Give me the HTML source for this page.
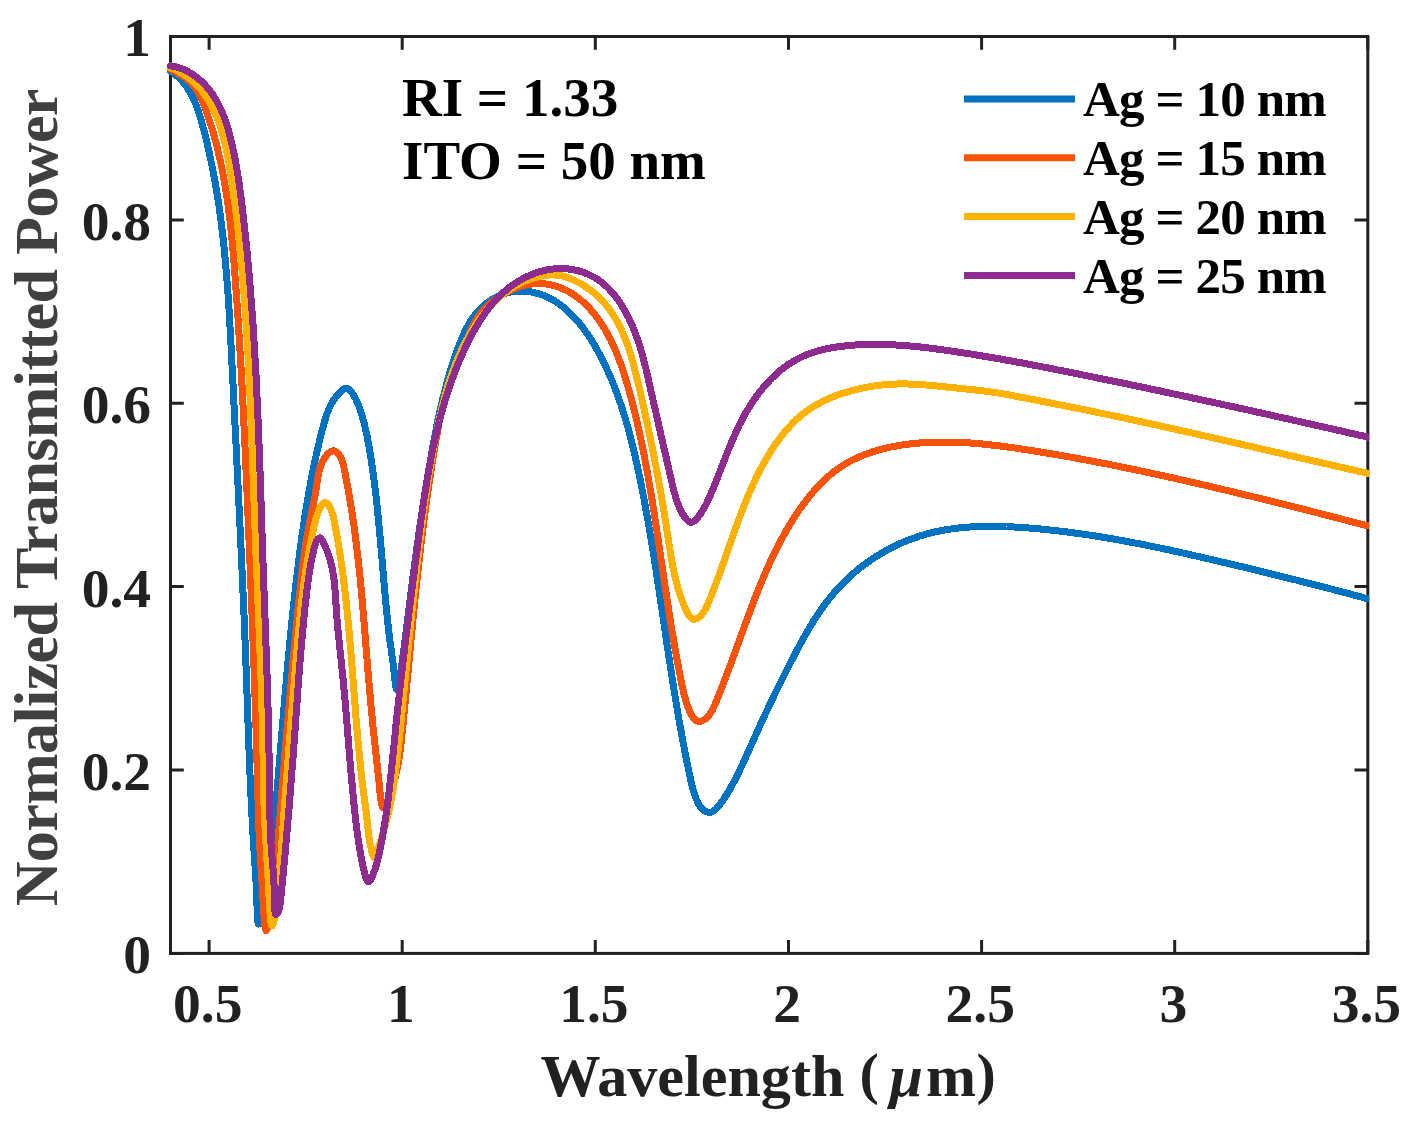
<!DOCTYPE html>
<html><head><meta charset="utf-8"><style>
html,body{margin:0;padding:0;background:#fff;width:1411px;height:1128px;overflow:hidden}
svg{display:block}
text{font-family:"Liberation Serif",serif}
</style></head><body>
<svg width="1411" height="1128" viewBox="0 0 1411 1128">
<defs><clipPath id="clip"><rect x="160.5" y="6.5" width="1208.8" height="976.9"/></clipPath></defs>
<rect x="170.5" y="36.5" width="1197.3" height="916.9" fill="none" stroke="#212121" stroke-width="3"/>
<path d="M209.1 953.4V940.1 M209.1 36.5V49.8 M402.2 953.4V940.1 M402.2 36.5V49.8 M595.3 953.4V940.1 M595.3 36.5V49.8 M788.5 953.4V940.1 M788.5 36.5V49.8 M981.6 953.4V940.1 M981.6 36.5V49.8 M1174.7 953.4V940.1 M1174.7 36.5V49.8 M1367.8 953.4V940.1 M1367.8 36.5V49.8 M170.5 953.4H183.8 M1367.8 953.4H1354.5 M170.5 770.0H183.8 M1367.8 770.0H1354.5 M170.5 586.6H183.8 M1367.8 586.6H1354.5 M170.5 403.3H183.8 M1367.8 403.3H1354.5 M170.5 219.9H183.8 M1367.8 219.9H1354.5 M170.5 36.5H183.8 M1367.8 36.5H1354.5" stroke="#212121" stroke-width="3" fill="none"/>
<g fill="none" stroke-width="7" stroke-linejoin="round" stroke-linecap="round" shape-rendering="crispEdges" clip-path="url(#clip)">
<path stroke="#0072C2" d="M170.2 71.0L171.6 71.9L172.9 72.9L174.2 73.8L175.4 74.8L176.6 75.8L177.8 76.8L178.9 77.9L180.0 78.9L181.0 80.0L182.1 81.1L183.1 82.2L184.0 83.4L184.9 84.6L185.8 85.7L186.7 86.9L187.5 88.2L188.3 89.4L189.1 90.6L189.9 91.9L190.6 93.2L191.3 94.5L192.0 95.8L192.7 97.1L193.3 98.4L193.9 99.8L194.5 101.2L195.1 102.5L195.7 103.9L196.2 105.3L196.8 106.7L197.3 108.1L197.8 109.5L198.3 110.9L198.7 112.3L199.2 113.8L199.6 115.2L200.1 116.6L200.5 118.1L200.9 119.5L201.3 121.0L201.8 122.4L202.2 123.9L202.6 125.4L202.9 126.8L203.3 128.3L203.7 129.7L204.1 131.2L204.5 132.6L204.8 134.1L205.2 135.6L205.6 137.0L205.9 138.5L206.3 140.0L206.7 141.4L207.0 142.9L207.4 144.3L207.7 145.8L208.0 147.3L208.4 148.7L208.7 150.2L209.0 151.7L209.4 153.1L209.7 154.6L210.0 156.1L210.3 157.5L210.6 159.0L210.9 160.5L211.2 162.0L211.5 163.4L211.8 164.9L212.1 166.4L212.4 167.8L212.7 169.3L213.0 170.8L213.3 172.3L213.6 173.7L213.8 175.2L214.1 176.7L214.4 178.1L214.7 179.6L214.9 181.1L215.2 182.6L215.4 184.0L215.7 185.5L215.9 187.0L216.2 188.5L216.4 190.0L216.7 191.4L216.9 192.9L217.2 194.4L217.4 195.9L217.6 197.3L217.9 198.8L218.1 200.3L218.3 201.8L218.5 203.3L218.8 204.8L219.0 206.2L219.2 207.7L219.4 209.2L219.6 210.7L219.8 212.2L220.0 213.6L220.2 215.1L220.4 216.6L220.6 218.1L220.8 219.6L221.0 221.1L221.2 222.5L221.4 224.0L221.6 225.5L221.7 227.0L221.9 228.5L222.1 230.0L222.3 231.5L222.4 232.9L222.6 234.4L222.8 235.9L223.0 237.4L223.1 238.9L223.3 240.4L223.4 241.9L223.6 243.4L223.8 244.9L223.9 246.3L224.1 247.8L224.2 249.3L224.4 250.8L224.5 252.3L224.7 253.8L224.8 255.3L224.9 256.8L225.1 258.3L225.2 259.8L225.4 261.3L225.5 262.7L225.6 264.2L225.8 265.7L225.9 267.2L226.0 268.7L226.1 270.2L226.3 271.7L226.4 273.2L226.5 274.7L226.6 276.2L226.8 277.7L226.9 279.2L227.0 280.7L227.1 282.2L227.2 283.7L227.3 285.1L227.4 286.6L227.6 288.1L227.7 289.6L227.8 291.1L227.9 292.6L228.0 294.1L228.1 295.6L228.2 297.1L228.3 298.6L228.4 300.1L228.5 301.6L228.6 303.1L228.7 304.6L228.8 306.1L228.9 307.6L229.0 309.1L229.1 310.6L229.2 312.1L229.2 313.6L229.3 315.1L229.4 316.6L229.5 318.1L229.6 319.6L229.7 321.1L229.8 322.6L229.9 324.1L229.9 325.6L230.0 327.1L230.1 328.6L230.2 330.1L230.3 331.6L230.4 333.1L230.4 334.6L230.5 336.1L230.6 337.6L230.7 339.1L230.8 340.6L230.8 342.1L230.9 343.6L231.0 345.1L231.1 346.6L231.1 348.1L231.2 349.6L231.3 351.1L231.4 352.6L231.5 354.1L231.5 355.6L231.6 357.1L231.7 358.6L231.8 360.1L231.8 361.6L231.9 363.1L232.0 364.6L232.1 366.1L232.1 367.6L232.2 369.1L232.3 370.6L232.4 372.1L232.4 373.6L232.5 375.1L232.6 376.6L232.7 378.1L232.7 379.6L232.8 381.1L232.9 382.6L233.0 384.1L233.0 385.6L233.1 387.1L233.2 388.6L233.3 390.1L233.3 391.6L233.4 393.1L233.5 394.6L233.6 396.1L233.6 397.6L233.7 399.1L233.8 400.6L233.9 402.1L233.9 403.6L234.0 405.1L234.1 406.6L234.2 408.1L234.2 409.6L234.3 411.1L234.4 412.6L234.5 414.1L234.5 415.6L234.6 417.1L234.7 418.6L234.8 420.1L234.8 421.6L234.9 423.1L235.0 424.6L235.1 426.1L235.1 427.6L235.2 429.1L235.3 430.6L235.4 432.1L235.4 433.6L235.5 435.1L235.6 436.6L235.7 438.1L235.7 439.6L235.8 441.1L235.9 442.6L236.0 444.1L236.0 445.6L236.1 447.1L236.2 448.6L236.3 450.1L236.3 451.6L236.4 453.1L236.5 454.6L236.6 456.1L236.6 457.6L236.7 459.1L236.8 460.6L236.9 462.1L236.9 463.6L237.0 465.1L237.1 466.6L237.2 468.1L237.2 469.6L237.3 471.1L237.4 472.6L237.5 474.1L237.5 475.6L237.6 477.1L237.7 478.6L237.8 480.1L237.8 481.6L237.9 483.1L238.0 484.6L238.0 486.1L238.1 487.6L238.2 489.1L238.3 490.6L238.3 492.1L238.4 493.6L238.5 495.1L238.6 496.6L238.6 498.1L238.7 499.6L238.8 501.1L238.8 502.6L238.9 504.1L239.0 505.6L239.1 507.1L239.1 508.6L239.2 510.1L239.3 511.5L239.4 513.0L239.4 514.5L239.5 516.0L239.6 517.5L239.6 519.0L239.7 520.5L239.8 522.0L239.9 523.5L239.9 525.0L240.0 526.5L240.1 528.0L240.1 529.5L240.2 531.0L240.3 532.5L240.4 534.0L240.4 535.5L240.5 537.0L240.6 538.5L240.6 540.0L240.7 541.5L240.8 543.0L240.8 544.5L240.9 546.0L241.0 547.5L241.1 549.0L241.1 550.5L241.2 552.0L241.3 553.5L241.3 555.0L241.4 556.5L241.5 558.0L241.5 559.5L241.6 561.0L241.7 562.5L241.7 564.0L241.8 565.5L241.9 567.0L241.9 568.5L242.0 570.0L242.1 571.5L242.1 572.9L242.2 574.4L242.3 575.9L242.3 577.4L242.4 578.9L242.5 580.4L242.5 581.9L242.6 583.4L242.7 584.9L242.7 586.4L242.8 587.9L242.9 589.4L242.9 590.9L243.0 592.4L243.1 593.9L243.1 595.4L243.2 596.9L243.3 598.4L243.3 599.9L243.4 601.4L243.5 602.9L243.5 604.4L243.6 605.9L243.6 607.3L243.7 608.8L243.8 610.3L243.8 611.8L243.9 613.3L244.0 614.8L244.0 616.3L244.1 617.8L244.1 619.3L244.2 620.8L244.3 622.3L244.3 623.8L244.4 625.3L244.5 626.8L244.5 628.3L244.6 629.8L244.6 631.3L244.7 632.8L244.8 634.2L244.8 635.7L244.9 637.2L244.9 638.7L245.0 640.2L245.1 641.7L245.1 643.2L245.2 644.7L245.2 646.2L245.3 647.7L245.3 649.2L245.4 650.7L245.5 652.2L245.5 653.7L245.6 655.1L245.6 656.6L245.7 658.1L245.7 659.6L245.8 661.1L245.9 662.6L245.9 664.1L246.0 665.6L246.0 667.1L246.1 668.6L246.1 670.1L246.2 671.6L246.2 673.0L246.3 674.5L246.4 676.0L246.4 677.5L246.5 679.0L246.5 680.5L246.6 682.0L246.6 683.5L246.7 685.0L246.7 686.5L246.8 688.0L246.8 689.4L246.9 690.9L246.9 692.4L247.0 693.9L247.0 695.4L247.1 696.9L247.1 698.4L247.2 699.9L247.3 701.4L247.3 702.9L247.4 704.4L247.4 705.9L247.5 707.4L247.5 708.9L247.6 710.3L247.6 711.8L247.7 713.3L247.7 714.8L247.8 716.3L247.8 717.8L247.9 719.3L247.9 720.8L248.0 722.3L248.0 723.8L248.1 725.3L248.1 726.8L248.2 728.3L248.3 729.8L248.3 731.3L248.4 732.8L248.4 734.3L248.5 735.8L248.5 737.3L248.6 738.8L248.6 740.3L248.7 741.8L248.8 743.3L248.8 744.8L248.9 746.3L248.9 747.9L249.0 749.4L249.0 750.9L249.1 752.4L249.2 753.9L249.2 755.4L249.3 756.9L249.3 758.4L249.4 759.9L249.4 761.4L249.5 763.0L249.6 764.5L249.6 766.0L249.7 767.5L249.8 769.0L249.8 770.5L249.9 772.1L249.9 773.6L250.0 775.1L250.1 776.6L250.1 778.2L250.2 779.7L250.3 781.2L250.3 782.7L250.4 784.3L250.5 785.8L250.5 787.3L250.6 788.9L250.7 790.4L250.7 791.9L250.8 793.5L250.9 795.0L251.0 796.5L251.0 798.1L251.1 799.6L251.2 801.2L251.3 802.7L251.3 804.2L251.4 805.8L251.5 807.3L251.6 808.9L251.6 810.4L251.7 811.9L251.8 813.5L251.9 815.0L252.0 816.5L252.0 818.1L252.1 819.6L252.2 821.1L252.3 822.6L252.4 824.1L252.4 825.6L252.5 827.1L252.6 828.6L252.7 830.1L252.8 831.6L252.9 833.0L253.0 834.5L253.0 835.9L253.1 837.4L253.2 838.8L253.3 840.2L253.4 841.6L253.5 843.0L253.6 844.4L253.7 845.8L253.8 847.1L253.8 848.5L253.9 849.8L254.0 851.1L254.1 852.4L254.2 853.7L254.3 855.0L254.4 856.3L254.5 857.6L254.6 858.9L254.7 860.2L254.8 861.5L254.8 862.8L254.9 864.1L255.0 865.4L255.1 866.7L255.2 868.1L255.3 869.4L255.4 870.8L255.5 872.2L255.6 873.7L255.7 875.1L255.7 876.6L255.8 878.1L255.9 879.7L256.0 881.3L256.1 882.9L256.2 884.5L256.2 886.3L256.3 888.0L256.4 889.8L256.5 891.7L256.6 893.6L256.6 895.5L256.7 897.5L256.8 899.6L256.9 901.7L256.9 903.9L257.0 906.0L257.1 908.2L257.1 910.3L257.2 912.4L257.3 914.3L257.4 916.2L257.5 917.9L257.6 919.4L257.7 920.8L257.9 922.0L258.0 922.9L258.2 923.6L258.4 924.0L258.5 924.0L258.7 923.8L259.0 923.2L259.2 922.4L259.4 921.3L259.7 919.9L260.0 918.4L260.2 916.8L260.5 915.0L260.8 913.1L261.1 911.2L261.4 909.2L261.7 907.3L262.0 905.4L262.3 903.5L262.6 901.8L262.9 900.0L263.2 898.4L263.4 896.7L263.7 895.1L264.0 893.6L264.3 892.0L264.6 890.6L264.8 889.1L265.1 887.7L265.4 886.2L265.6 884.8L265.9 883.4L266.2 882.0L266.4 880.7L266.7 879.3L266.9 877.9L267.1 876.5L267.4 875.1L267.6 873.7L267.9 872.3L268.1 870.9L268.3 869.5L268.5 868.1L268.7 866.6L269.0 865.2L269.2 863.8L269.4 862.4L269.6 860.9L269.8 859.5L270.0 858.1L270.2 856.6L270.4 855.2L270.6 853.7L270.8 852.3L271.0 850.8L271.1 849.4L271.3 847.9L271.5 846.4L271.7 845.0L271.9 843.5L272.0 842.0L272.2 840.6L272.4 839.1L272.5 837.6L272.7 836.1L272.9 834.7L273.0 833.2L273.2 831.7L273.4 830.2L273.5 828.7L273.7 827.2L273.8 825.8L274.0 824.3L274.1 822.8L274.3 821.3L274.4 819.8L274.6 818.3L274.7 816.8L274.8 815.3L275.0 813.8L275.1 812.3L275.3 810.8L275.4 809.3L275.5 807.8L275.7 806.3L275.8 804.8L275.9 803.3L276.1 801.7L276.2 800.2L276.3 798.7L276.5 797.2L276.6 795.7L276.7 794.2L276.9 792.7L277.0 791.2L277.1 789.7L277.2 788.2L277.4 786.7L277.5 785.2L277.6 783.7L277.8 782.2L277.9 780.6L278.0 779.1L278.1 777.6L278.3 776.1L278.4 774.6L278.5 773.1L278.6 771.6L278.8 770.1L278.9 768.6L279.0 767.1L279.1 765.6L279.3 764.1L279.4 762.6L279.5 761.1L279.7 759.6L279.8 758.1L279.9 756.6L280.0 755.1L280.1 753.6L280.3 752.1L280.4 750.6L280.5 749.1L280.6 747.6L280.8 746.1L280.9 744.6L281.0 743.1L281.1 741.6L281.3 740.1L281.4 738.5L281.5 737.0L281.6 735.5L281.8 734.0L281.9 732.5L282.0 731.0L282.1 729.5L282.3 728.0L282.4 726.5L282.5 725.0L282.6 723.5L282.8 722.0L282.9 720.5L283.0 719.0L283.1 717.5L283.3 716.1L283.4 714.6L283.5 713.1L283.6 711.6L283.8 710.1L283.9 708.6L284.0 707.1L284.2 705.6L284.3 704.1L284.4 702.6L284.5 701.1L284.7 699.6L284.8 698.1L284.9 696.6L285.0 695.1L285.2 693.6L285.3 692.1L285.4 690.6L285.6 689.1L285.7 687.6L285.8 686.1L286.0 684.6L286.1 683.1L286.2 681.6L286.3 680.1L286.5 678.6L286.6 677.1L286.7 675.6L286.9 674.2L287.0 672.7L287.1 671.2L287.3 669.7L287.4 668.2L287.5 666.7L287.7 665.2L287.8 663.7L287.9 662.2L288.1 660.7L288.2 659.2L288.4 657.7L288.5 656.2L288.6 654.7L288.8 653.2L288.9 651.8L289.1 650.3L289.2 648.8L289.3 647.3L289.5 645.8L289.6 644.3L289.8 642.8L289.9 641.3L290.0 639.8L290.2 638.3L290.3 636.8L290.5 635.4L290.6 633.9L290.8 632.4L290.9 630.9L291.1 629.4L291.2 627.9L291.4 626.4L291.5 624.9L291.7 623.4L291.8 621.9L292.0 620.5L292.1 619.0L292.3 617.5L292.4 616.0L292.6 614.5L292.7 613.0L292.9 611.5L293.1 610.0L293.2 608.6L293.4 607.1L293.5 605.6L293.7 604.1L293.9 602.6L294.0 601.1L294.2 599.6L294.3 598.1L294.5 596.7L294.7 595.2L294.8 593.7L295.0 592.2L295.2 590.7L295.3 589.2L295.5 587.7L295.7 586.3L295.8 584.8L296.0 583.3L296.2 581.8L296.4 580.3L296.5 578.8L296.7 577.3L296.9 575.9L297.1 574.4L297.2 572.9L297.4 571.4L297.6 569.9L297.8 568.4L298.0 567.0L298.1 565.5L298.3 564.0L298.5 562.5L298.7 561.0L298.9 559.5L299.1 558.1L299.3 556.6L299.5 555.1L299.6 553.6L299.8 552.1L300.0 550.6L300.2 549.2L300.4 547.7L300.6 546.2L300.8 544.7L301.0 543.2L301.2 541.8L301.4 540.3L301.6 538.8L301.8 537.3L302.0 535.8L302.2 534.4L302.4 532.9L302.7 531.4L302.9 529.9L303.1 528.4L303.3 526.9L303.5 525.5L303.7 524.0L304.0 522.5L304.2 521.0L304.4 519.5L304.6 518.1L304.8 516.6L305.1 515.1L305.3 513.6L305.5 512.2L305.8 510.7L306.0 509.2L306.2 507.7L306.5 506.2L306.7 504.8L307.0 503.3L307.2 501.8L307.5 500.3L307.7 498.8L308.0 497.4L308.2 495.9L308.5 494.4L308.7 492.9L309.0 491.4L309.3 490.0L309.5 488.5L309.8 487.0L310.1 485.5L310.3 484.1L310.6 482.6L310.9 481.1L311.2 479.6L311.4 478.1L311.7 476.7L312.0 475.2L312.3 473.7L312.6 472.2L312.9 470.8L313.2 469.3L313.5 467.8L313.8 466.3L314.1 464.8L314.4 463.4L314.7 461.9L315.0 460.4L315.4 458.9L315.7 457.5L316.0 456.0L316.3 454.5L316.7 453.0L317.0 451.6L317.3 450.1L317.7 448.6L318.0 447.1L318.4 445.6L318.7 444.2L319.1 442.7L319.4 441.2L319.8 439.7L320.1 438.3L320.5 436.8L320.9 435.3L321.2 433.8L321.6 432.4L322.0 430.9L322.4 429.4L322.8 427.9L323.2 426.4L323.6 425.0L324.0 423.5L324.4 422.0L324.8 420.6L325.3 419.1L325.7 417.7L326.2 416.2L326.7 414.8L327.2 413.4L327.7 412.0L328.3 410.6L328.8 409.2L329.4 407.9L330.1 406.5L330.7 405.2L331.4 403.9L332.1 402.6L332.9 401.3L333.6 400.1L334.4 398.9L335.3 397.7L336.2 396.5L337.1 395.4L338.1 394.2L339.1 393.2L340.2 392.1L341.3 391.1L342.4 390.1L343.6 389.2L344.9 388.7L346.2 388.5L347.5 388.8L348.8 389.4L350.0 390.4L351.1 391.6L352.1 392.9L353.1 394.3L353.9 395.7L354.7 397.1L355.5 398.5L356.2 399.9L356.8 401.3L357.5 402.6L358.0 404.0L358.6 405.3L359.1 406.7L359.6 408.1L360.0 409.4L360.5 410.8L360.9 412.2L361.4 413.6L361.8 415.0L362.2 416.4L362.6 417.8L363.0 419.2L363.4 420.7L363.8 422.1L364.2 423.5L364.5 425.0L364.9 426.4L365.2 427.9L365.6 429.3L365.9 430.8L366.2 432.3L366.6 433.7L366.9 435.2L367.2 436.7L367.5 438.2L367.8 439.7L368.0 441.2L368.3 442.7L368.6 444.1L368.9 445.6L369.1 447.1L369.4 448.6L369.6 450.1L369.9 451.6L370.1 453.1L370.4 454.6L370.6 456.1L370.8 457.6L371.1 459.1L371.3 460.6L371.5 462.1L371.7 463.6L372.0 465.1L372.2 466.6L372.4 468.1L372.6 469.6L372.8 471.1L373.0 472.5L373.2 474.0L373.4 475.5L373.6 477.0L373.8 478.5L374.0 480.0L374.2 481.4L374.4 482.9L374.6 484.4L374.7 485.9L374.9 487.4L375.1 488.8L375.3 490.3L375.5 491.8L375.6 493.3L375.8 494.8L376.0 496.2L376.1 497.7L376.3 499.2L376.5 500.7L376.6 502.1L376.8 503.6L377.0 505.1L377.1 506.6L377.3 508.1L377.4 509.5L377.6 511.0L377.7 512.5L377.9 514.0L378.0 515.5L378.2 516.9L378.3 518.4L378.5 519.9L378.6 521.4L378.8 522.9L378.9 524.4L379.0 525.8L379.2 527.3L379.3 528.8L379.5 530.3L379.6 531.8L379.7 533.3L379.9 534.8L380.0 536.3L380.1 537.8L380.3 539.3L380.4 540.8L380.5 542.3L380.7 543.8L380.8 545.3L380.9 546.8L381.1 548.3L381.2 549.8L381.3 551.3L381.4 552.8L381.6 554.3L381.7 555.8L381.8 557.4L382.0 558.9L382.1 560.4L382.2 561.9L382.3 563.4L382.5 565.0L382.6 566.5L382.7 568.0L382.9 569.5L383.0 571.0L383.1 572.6L383.2 574.1L383.4 575.6L383.5 577.1L383.6 578.7L383.8 580.2L383.9 581.7L384.0 583.2L384.2 584.7L384.3 586.3L384.4 587.8L384.6 589.3L384.7 590.8L384.8 592.3L385.0 593.8L385.1 595.3L385.2 596.8L385.4 598.3L385.5 599.8L385.7 601.3L385.8 602.8L385.9 604.3L386.1 605.8L386.2 607.3L386.4 608.8L386.5 610.3L386.7 611.8L386.8 613.2L387.0 614.7L387.1 616.2L387.3 617.6L387.4 619.1L387.6 620.6L387.7 622.0L387.9 623.5L388.1 624.9L388.2 626.3L388.4 627.8L388.5 629.2L388.7 630.6L388.9 632.1L389.0 633.5L389.2 634.9L389.4 636.3L389.6 637.7L389.8 639.1L389.9 640.5L390.1 641.9L390.3 643.2L390.5 644.6L390.7 646.0L390.9 647.3L391.1 648.7L391.3 650.1L391.4 651.5L391.6 652.9L391.8 654.3L392.0 655.8L392.2 657.3L392.5 658.8L392.7 660.4L392.9 662.1L393.1 663.8L393.3 665.5L393.5 667.3L393.7 669.2L393.9 671.1L394.1 673.1L394.3 675.2L394.6 677.2L394.8 679.2L395.0 681.1L395.2 682.9L395.5 684.6L395.7 686.1L396.0 687.4L396.2 688.5L396.5 689.3L396.7 689.8L397.0 690.0L397.3 689.8L397.6 689.3L397.9 688.5L398.2 687.5L398.5 686.2L398.8 684.7L399.1 683.0L399.4 681.2L399.7 679.3L400.0 677.3L400.3 675.3L400.6 673.2L400.8 671.2L401.1 669.3L401.4 667.4L401.6 665.6L401.9 663.8L402.1 662.1L402.3 660.5L402.5 658.9L402.7 657.3L403.0 655.8L403.2 654.4L403.3 652.9L403.5 651.5L403.7 650.2L403.9 648.8L404.1 647.4L404.3 646.1L404.5 644.8L404.6 643.5L404.8 642.1L405.0 640.8L405.2 639.4L405.3 638.1L405.5 636.7L405.7 635.3L405.9 633.9L406.0 632.5L406.2 631.0L406.4 629.6L406.6 628.1L406.8 626.7L406.9 625.2L407.1 623.7L407.3 622.2L407.5 620.8L407.7 619.3L407.8 617.8L408.0 616.3L408.2 614.8L408.4 613.3L408.6 611.8L408.8 610.2L408.9 608.7L409.1 607.2L409.3 605.7L409.5 604.2L409.7 602.7L409.9 601.2L410.1 599.7L410.3 598.2L410.4 596.7L410.6 595.2L410.8 593.7L411.0 592.2L411.2 590.7L411.4 589.2L411.6 587.7L411.8 586.2L412.0 584.7L412.2 583.2L412.3 581.7L412.5 580.2L412.7 578.7L412.9 577.2L413.1 575.7L413.3 574.2L413.5 572.7L413.7 571.2L413.9 569.7L414.1 568.2L414.3 566.7L414.5 565.3L414.7 563.8L414.9 562.3L415.1 560.8L415.3 559.3L415.5 557.8L415.7 556.3L415.9 554.8L416.1 553.3L416.3 551.8L416.5 550.3L416.7 548.9L416.9 547.4L417.2 545.9L417.4 544.4L417.6 542.9L417.8 541.4L418.0 539.9L418.2 538.4L418.4 536.9L418.6 535.5L418.8 534.0L419.0 532.5L419.3 531.0L419.5 529.5L419.7 528.0L419.9 526.5L420.1 525.1L420.3 523.6L420.6 522.1L420.8 520.6L421.0 519.1L421.2 517.6L421.4 516.2L421.7 514.7L421.9 513.2L422.1 511.7L422.3 510.2L422.6 508.8L422.8 507.3L423.0 505.8L423.2 504.3L423.5 502.8L423.7 501.4L423.9 499.9L424.2 498.4L424.4 496.9L424.6 495.4L424.8 494.0L425.1 492.5L425.3 491.0L425.6 489.5L425.8 488.0L426.0 486.6L426.3 485.1L426.5 483.6L426.7 482.1L427.0 480.7L427.2 479.2L427.5 477.7L427.7 476.2L428.0 474.8L428.2 473.3L428.5 471.8L428.7 470.3L429.0 468.9L429.2 467.4L429.5 465.9L429.7 464.4L430.0 463.0L430.2 461.5L430.5 460.0L430.7 458.5L431.0 457.1L431.2 455.6L431.5 454.1L431.8 452.6L432.0 451.2L432.3 449.7L432.5 448.2L432.8 446.7L433.1 445.3L433.4 443.8L433.6 442.3L433.9 440.9L434.2 439.4L434.4 437.9L434.7 436.5L435.0 435.0L435.3 433.5L435.6 432.0L435.9 430.6L436.2 429.1L436.4 427.6L436.7 426.2L437.0 424.7L437.3 423.2L437.6 421.8L437.9 420.3L438.2 418.8L438.6 417.4L438.9 415.9L439.2 414.4L439.5 413.0L439.8 411.5L440.2 410.1L440.5 408.6L440.8 407.1L441.1 405.7L441.5 404.2L441.8 402.8L442.2 401.3L442.5 399.8L442.9 398.4L443.2 396.9L443.6 395.5L444.0 394.0L444.3 392.6L444.7 391.1L445.1 389.7L445.5 388.2L445.8 386.8L446.2 385.3L446.6 383.9L447.0 382.4L447.4 381.0L447.8 379.5L448.2 378.1L448.7 376.6L449.1 375.2L449.5 373.7L449.9 372.3L450.4 370.9L450.8 369.4L451.3 368.0L451.7 366.5L452.2 365.1L452.6 363.7L453.1 362.2L453.6 360.8L454.0 359.4L454.5 357.9L455.0 356.5L455.5 355.1L456.0 353.6L456.5 352.2L457.0 350.8L457.5 349.3L458.1 347.9L458.6 346.5L459.1 345.1L459.7 343.7L460.2 342.2L460.8 340.8L461.4 339.4L462.0 338.0L462.5 336.6L463.2 335.3L463.8 333.9L464.4 332.5L465.1 331.2L465.7 329.8L466.4 328.5L467.1 327.2L467.8 325.8L468.5 324.5L469.3 323.3L470.1 322.0L470.8 320.7L471.6 319.5L472.5 318.3L473.3 317.0L474.2 315.9L475.1 314.7L476.0 313.5L476.9 312.4L477.9 311.3L478.9 310.2L479.9 309.1L481.0 308.1L482.0 307.0L483.1 306.0L484.3 305.1L485.4 304.1L486.6 303.2L487.8 302.3L489.1 301.4L490.3 300.6L491.6 299.8L492.9 299.0L494.2 298.2L495.6 297.5L496.9 296.8L498.3 296.2L499.7 295.6L501.1 295.0L502.5 294.4L503.9 293.9L505.4 293.5L506.8 293.0L508.3 292.6L509.7 292.3L511.2 292.0L512.7 291.7L514.2 291.5L515.6 291.3L517.1 291.2L518.6 291.1L520.1 291.1L521.6 291.0L523.0 291.1L524.5 291.1L526.0 291.3L527.5 291.4L529.0 291.6L530.4 291.8L531.9 292.1L533.4 292.4L534.8 292.7L536.3 293.1L537.7 293.5L539.1 293.9L540.6 294.4L542.0 294.9L543.4 295.4L544.8 296.0L546.2 296.6L547.5 297.2L548.9 297.9L550.3 298.6L551.6 299.3L552.9 300.0L554.2 300.8L555.5 301.6L556.8 302.4L558.1 303.3L559.3 304.2L560.6 305.1L561.8 306.0L563.0 306.9L564.2 307.9L565.3 308.9L566.5 309.9L567.6 310.9L568.7 311.9L569.8 313.0L570.9 314.0L572.0 315.1L573.0 316.1L574.1 317.2L575.1 318.3L576.1 319.5L577.1 320.6L578.1 321.7L579.0 322.9L580.0 324.0L580.9 325.2L581.9 326.4L582.8 327.6L583.7 328.7L584.6 330.0L585.4 331.2L586.3 332.4L587.2 333.6L588.0 334.9L588.8 336.1L589.6 337.4L590.5 338.6L591.3 339.9L592.0 341.2L592.8 342.4L593.6 343.7L594.4 345.0L595.1 346.3L595.9 347.6L596.6 348.9L597.3 350.2L598.0 351.5L598.8 352.8L599.5 354.1L600.2 355.5L600.9 356.8L601.5 358.1L602.2 359.4L602.9 360.8L603.6 362.1L604.2 363.4L604.9 364.8L605.5 366.1L606.1 367.5L606.8 368.8L607.4 370.2L608.0 371.5L608.6 372.9L609.2 374.3L609.8 375.6L610.4 377.0L611.0 378.4L611.6 379.7L612.1 381.1L612.7 382.5L613.3 383.9L613.8 385.3L614.4 386.7L614.9 388.1L615.4 389.4L616.0 390.8L616.5 392.2L617.0 393.6L617.5 395.0L618.0 396.4L618.5 397.9L619.0 399.3L619.5 400.7L620.0 402.1L620.5 403.5L621.0 404.9L621.5 406.3L621.9 407.8L622.4 409.2L622.8 410.6L623.3 412.0L623.7 413.5L624.2 414.9L624.6 416.3L625.1 417.8L625.5 419.2L625.9 420.6L626.3 422.1L626.7 423.5L627.2 425.0L627.6 426.4L628.0 427.9L628.4 429.3L628.8 430.8L629.2 432.2L629.6 433.7L629.9 435.1L630.3 436.6L630.7 438.0L631.1 439.5L631.4 440.9L631.8 442.4L632.2 443.9L632.5 445.3L632.9 446.8L633.2 448.2L633.6 449.7L633.9 451.2L634.3 452.6L634.6 454.1L635.0 455.6L635.3 457.0L635.6 458.5L636.0 460.0L636.3 461.4L636.6 462.9L637.0 464.4L637.3 465.9L637.6 467.3L637.9 468.8L638.2 470.3L638.5 471.8L638.8 473.2L639.2 474.7L639.5 476.2L639.8 477.7L640.1 479.1L640.4 480.6L640.7 482.1L641.0 483.6L641.3 485.0L641.6 486.5L641.8 488.0L642.1 489.5L642.4 490.9L642.7 492.4L643.0 493.9L643.3 495.4L643.6 496.9L643.9 498.3L644.1 499.8L644.4 501.3L644.7 502.8L645.0 504.2L645.2 505.7L645.5 507.2L645.8 508.7L646.0 510.2L646.3 511.6L646.6 513.1L646.8 514.6L647.1 516.1L647.4 517.6L647.6 519.0L647.9 520.5L648.2 522.0L648.4 523.5L648.7 525.0L648.9 526.4L649.2 527.9L649.4 529.4L649.7 530.9L649.9 532.4L650.2 533.8L650.4 535.3L650.7 536.8L650.9 538.3L651.2 539.8L651.4 541.2L651.7 542.7L651.9 544.2L652.1 545.7L652.4 547.2L652.6 548.6L652.9 550.1L653.1 551.6L653.3 553.1L653.6 554.6L653.8 556.1L654.1 557.5L654.3 559.0L654.5 560.5L654.8 562.0L655.0 563.5L655.2 564.9L655.4 566.4L655.7 567.9L655.9 569.4L656.1 570.9L656.4 572.4L656.6 573.8L656.8 575.3L657.0 576.8L657.3 578.3L657.5 579.8L657.7 581.2L657.9 582.7L658.2 584.2L658.4 585.7L658.6 587.2L658.8 588.7L659.1 590.1L659.3 591.6L659.5 593.1L659.7 594.6L659.9 596.1L660.2 597.6L660.4 599.0L660.6 600.5L660.8 602.0L661.0 603.5L661.3 605.0L661.5 606.5L661.7 607.9L661.9 609.4L662.1 610.9L662.3 612.4L662.6 613.9L662.8 615.3L663.0 616.8L663.2 618.3L663.4 619.8L663.6 621.3L663.9 622.8L664.1 624.2L664.3 625.7L664.5 627.2L664.7 628.7L665.0 630.2L665.2 631.7L665.4 633.1L665.6 634.6L665.8 636.1L666.0 637.6L666.3 639.1L666.5 640.5L666.7 642.0L666.9 643.5L667.1 645.0L667.4 646.5L667.6 648.0L667.8 649.4L668.0 650.9L668.2 652.4L668.5 653.9L668.7 655.4L668.9 656.8L669.1 658.3L669.4 659.8L669.6 661.3L669.8 662.8L670.0 664.2L670.3 665.7L670.5 667.2L670.7 668.7L670.9 670.2L671.2 671.6L671.4 673.1L671.6 674.6L671.8 676.1L672.1 677.6L672.3 679.0L672.5 680.5L672.8 682.0L673.0 683.5L673.2 685.0L673.5 686.4L673.7 687.9L673.9 689.4L674.2 690.9L674.4 692.4L674.7 693.8L674.9 695.3L675.1 696.8L675.4 698.3L675.6 699.7L675.9 701.2L676.1 702.7L676.4 704.2L676.6 705.7L676.8 707.1L677.1 708.6L677.3 710.1L677.6 711.6L677.8 713.0L678.1 714.5L678.4 716.0L678.6 717.5L678.9 718.9L679.1 720.4L679.4 721.9L679.6 723.4L679.9 724.8L680.2 726.3L680.4 727.8L680.7 729.3L681.0 730.7L681.2 732.2L681.5 733.7L681.8 735.2L682.0 736.6L682.3 738.1L682.6 739.6L682.9 741.1L683.1 742.5L683.4 744.0L683.7 745.5L684.0 747.0L684.3 748.4L684.5 749.9L684.8 751.4L685.1 752.8L685.4 754.3L685.7 755.8L686.0 757.3L686.3 758.7L686.6 760.2L686.9 761.7L687.2 763.1L687.5 764.6L687.8 766.1L688.1 767.5L688.4 769.0L688.7 770.5L689.0 772.0L689.3 773.4L689.7 774.9L690.0 776.4L690.3 777.8L690.6 779.3L690.9 780.8L691.3 782.2L691.6 783.7L691.9 785.2L692.3 786.6L692.7 788.1L693.0 789.5L693.4 791.0L693.9 792.4L694.3 793.9L694.8 795.3L695.3 796.7L695.9 798.1L696.5 799.5L697.1 800.9L697.8 802.3L698.5 803.7L699.3 805.0L700.1 806.3L701.1 807.5L702.1 808.7L703.2 809.7L704.5 810.7L705.8 811.4L707.2 812.0L708.5 812.3L709.9 812.3L711.3 812.1L712.6 811.5L713.8 810.8L715.1 809.8L716.3 808.7L717.4 807.5L718.5 806.2L719.6 804.9L720.6 803.5L721.6 802.1L722.5 800.8L723.4 799.5L724.2 798.3L725.0 797.1L725.7 796.0L726.4 794.9L727.1 793.7L727.8 792.6L728.5 791.4L729.3 790.2L730.0 789.0L730.7 787.7L731.4 786.4L732.2 785.0L732.9 783.7L733.6 782.3L734.4 781.0L735.1 779.6L735.8 778.2L736.5 776.8L737.2 775.5L737.9 774.1L738.6 772.7L739.2 771.3L739.9 770.0L740.5 768.6L741.2 767.2L741.8 765.9L742.5 764.5L743.1 763.1L743.7 761.8L744.4 760.4L745.0 759.0L745.6 757.7L746.2 756.3L746.8 755.0L747.4 753.6L748.0 752.2L748.6 750.9L749.2 749.5L749.8 748.2L750.4 746.8L751.1 745.4L751.7 744.1L752.3 742.7L752.9 741.4L753.5 740.0L754.1 738.6L754.7 737.3L755.3 735.9L755.9 734.6L756.5 733.2L757.1 731.8L757.7 730.5L758.3 729.1L759.0 727.8L759.6 726.4L760.2 725.1L760.8 723.7L761.4 722.3L762.1 721.0L762.7 719.6L763.3 718.3L764.0 716.9L764.6 715.6L765.2 714.2L765.8 712.9L766.5 711.5L767.1 710.1L767.8 708.8L768.4 707.4L769.0 706.1L769.7 704.7L770.3 703.4L771.0 702.0L771.6 700.7L772.3 699.3L772.9 698.0L773.6 696.6L774.2 695.3L774.9 693.9L775.5 692.6L776.2 691.2L776.9 689.9L777.5 688.5L778.2 687.2L778.8 685.8L779.5 684.5L780.2 683.1L780.8 681.8L781.5 680.4L782.2 679.1L782.8 677.8L783.5 676.4L784.2 675.1L784.9 673.7L785.5 672.4L786.2 671.0L786.9 669.7L787.6 668.4L788.3 667.0L789.0 665.7L789.6 664.3L790.3 663.0L791.0 661.6L791.7 660.3L792.4 659.0L793.1 657.6L793.8 656.3L794.5 655.0L795.2 653.6L795.9 652.3L796.6 651.0L797.3 649.6L798.0 648.3L798.7 647.0L799.4 645.6L800.1 644.3L800.8 643.0L801.5 641.7L802.3 640.4L803.0 639.0L803.7 637.7L804.5 636.4L805.2 635.1L805.9 633.8L806.7 632.5L807.4 631.2L808.2 629.9L809.0 628.6L809.7 627.3L810.5 626.1L811.3 624.8L812.1 623.5L812.8 622.2L813.6 621.0L814.4 619.7L815.2 618.4L816.0 617.2L816.9 615.9L817.7 614.7L818.5 613.4L819.4 612.2L820.2 611.0L821.0 609.7L821.9 608.5L822.8 607.3L823.6 606.1L824.5 604.9L825.4 603.7L826.3 602.5L827.2 601.3L828.1 600.1L829.0 599.0L830.0 597.8L830.9 596.6L831.9 595.5L832.8 594.3L833.8 593.2L834.7 592.1L835.7 590.9L836.7 589.8L837.7 588.7L838.7 587.6L839.8 586.5L840.8 585.4L841.8 584.4L842.9 583.3L843.9 582.2L845.0 581.2L846.1 580.1L847.2 579.1L848.3 578.0L849.4 577.0L850.5 576.0L851.6 575.0L852.7 574.0L853.9 573.0L855.0 572.0L856.2 571.1L857.4 570.1L858.5 569.2L859.7 568.2L860.9 567.3L862.1 566.4L863.3 565.4L864.5 564.5L865.7 563.6L866.9 562.7L868.2 561.9L869.4 561.0L870.7 560.1L871.9 559.3L873.2 558.4L874.4 557.6L875.7 556.8L877.0 556.0L878.3 555.2L879.6 554.4L880.9 553.6L882.2 552.8L883.5 552.1L884.8 551.3L886.1 550.6L887.4 549.9L888.8 549.2L890.1 548.5L891.5 547.8L892.8 547.1L894.2 546.4L895.5 545.7L896.9 545.1L898.2 544.4L899.6 543.8L901.0 543.2L902.4 542.6L903.7 542.0L905.1 541.4L906.5 540.8L907.9 540.3L909.3 539.7L910.7 539.2L912.1 538.7L913.5 538.2L915.0 537.7L916.4 537.2L917.8 536.7L919.2 536.2L920.6 535.8L922.1 535.4L923.5 534.9L924.9 534.5L926.4 534.1L927.8 533.7L929.2 533.3L930.7 533.0L932.1 532.6L933.6 532.3L935.0 531.9L936.5 531.6L937.9 531.3L939.4 531.0L940.9 530.7L942.3 530.4L943.8 530.2L945.2 529.9L946.7 529.7L948.2 529.4L949.7 529.2L951.1 529.0L952.6 528.8L954.1 528.6L955.6 528.4L957.0 528.2L958.5 528.0L960.0 527.9L961.5 527.7L963.0 527.6L964.5 527.4L966.0 527.3L967.5 527.2L968.9 527.1L970.4 527.0L971.9 526.9L973.4 526.8L974.9 526.7L976.4 526.7L977.9 526.6L979.4 526.5L980.9 526.5L982.4 526.4L983.9 526.4L985.4 526.4L986.9 526.4L988.4 526.3L989.9 526.3L991.4 526.3L993.0 526.3L994.5 526.4L996.0 526.4L997.5 526.4L999.0 526.4L1000.5 526.5L1002.0 526.5L1003.5 526.5L1005.0 526.6L1006.5 526.7L1008.0 526.7L1009.5 526.8L1011.0 526.8L1012.6 526.9L1014.1 527.0L1015.6 527.1L1017.1 527.2L1018.6 527.3L1020.1 527.4L1021.6 527.5L1023.1 527.6L1024.6 527.7L1026.1 527.8L1027.6 527.9L1029.1 528.0L1030.6 528.1L1032.1 528.3L1033.6 528.4L1035.1 528.5L1036.6 528.6L1038.1 528.8L1039.6 528.9L1041.1 529.1L1042.6 529.2L1044.1 529.4L1045.6 529.5L1047.1 529.7L1048.6 529.8L1050.1 530.0L1051.6 530.1L1053.1 530.3L1054.6 530.5L1056.1 530.6L1057.6 530.8L1059.1 531.0L1060.6 531.2L1062.1 531.3L1063.5 531.5L1065.0 531.7L1066.5 531.9L1068.0 532.1L1069.5 532.3L1071.0 532.5L1072.5 532.7L1074.0 532.9L1075.4 533.1L1076.9 533.3L1078.4 533.5L1079.9 533.7L1081.4 533.9L1082.9 534.1L1084.3 534.3L1085.8 534.5L1087.3 534.8L1088.8 535.0L1090.3 535.2L1091.7 535.4L1093.2 535.7L1094.7 535.9L1096.2 536.1L1097.7 536.4L1099.1 536.6L1100.6 536.8L1102.1 537.1L1103.6 537.3L1105.0 537.6L1106.5 537.8L1108.0 538.1L1109.5 538.3L1110.9 538.6L1112.4 538.8L1113.9 539.1L1115.4 539.4L1116.8 539.6L1118.3 539.9L1119.8 540.1L1121.2 540.4L1122.7 540.7L1124.2 541.0L1125.7 541.2L1127.1 541.5L1128.6 541.8L1130.1 542.1L1131.5 542.3L1133.0 542.6L1134.5 542.9L1135.9 543.2L1137.4 543.5L1138.9 543.8L1140.3 544.0L1141.8 544.3L1143.3 544.6L1144.7 544.9L1146.2 545.2L1147.7 545.5L1149.1 545.8L1150.6 546.1L1152.1 546.4L1153.5 546.7L1155.0 547.0L1156.5 547.3L1157.9 547.6L1159.4 547.9L1160.9 548.2L1162.3 548.6L1163.8 548.9L1165.3 549.2L1166.7 549.5L1168.2 549.8L1169.6 550.1L1171.1 550.4L1172.6 550.8L1174.0 551.1L1175.5 551.4L1177.0 551.7L1178.4 552.0L1179.9 552.4L1181.3 552.7L1182.8 553.0L1184.3 553.3L1185.7 553.7L1187.2 554.0L1188.6 554.3L1190.1 554.6L1191.6 555.0L1193.0 555.3L1194.5 555.6L1195.9 556.0L1197.4 556.3L1198.9 556.6L1200.3 557.0L1201.8 557.3L1203.3 557.6L1204.7 558.0L1206.2 558.3L1207.6 558.7L1209.1 559.0L1210.6 559.3L1212.0 559.7L1213.5 560.0L1214.9 560.4L1216.4 560.7L1217.9 561.0L1219.3 561.4L1220.8 561.7L1222.2 562.1L1223.7 562.4L1225.2 562.8L1226.6 563.1L1228.1 563.5L1229.5 563.8L1231.0 564.1L1232.5 564.5L1233.9 564.8L1235.4 565.2L1236.8 565.5L1238.3 565.9L1239.8 566.2L1241.2 566.6L1242.7 566.9L1244.1 567.3L1245.6 567.6L1247.1 568.0L1248.5 568.3L1250.0 568.7L1251.4 569.0L1252.9 569.4L1254.4 569.7L1255.8 570.1L1257.3 570.5L1258.7 570.8L1260.2 571.2L1261.7 571.5L1263.1 571.9L1264.6 572.2L1266.0 572.6L1267.5 573.0L1269.0 573.3L1270.4 573.7L1271.9 574.0L1273.3 574.4L1274.8 574.7L1276.2 575.1L1277.7 575.5L1279.2 575.8L1280.6 576.2L1282.1 576.6L1283.5 576.9L1285.0 577.3L1286.5 577.6L1287.9 578.0L1289.4 578.4L1290.8 578.7L1292.3 579.1L1293.7 579.5L1295.2 579.8L1296.7 580.2L1298.1 580.6L1299.6 580.9L1301.0 581.3L1302.5 581.7L1303.9 582.0L1305.4 582.4L1306.8 582.8L1308.3 583.2L1309.8 583.5L1311.2 583.9L1312.7 584.3L1314.1 584.6L1315.6 585.0L1317.0 585.4L1318.5 585.8L1319.9 586.1L1321.4 586.5L1322.8 586.9L1324.3 587.3L1325.7 587.6L1327.2 588.0L1328.6 588.4L1330.1 588.8L1331.5 589.1L1333.0 589.5L1334.4 589.9L1335.9 590.3L1337.3 590.7L1338.8 591.0L1340.2 591.4L1341.7 591.8L1343.1 592.2L1344.6 592.6L1346.0 593.0L1347.5 593.3L1348.9 593.7L1350.4 594.1L1351.8 594.5L1353.3 594.9L1354.7 595.3L1356.2 595.7L1357.6 596.0L1359.0 596.4L1360.5 596.8L1361.9 597.2L1363.4 597.6L1364.8 598.0L1366.3 598.4L1367.7 598.8"/>
<path stroke="#F9530B" d="M170.6 69.5L171.8 70.1L173.1 70.7L174.4 71.4L175.7 72.1L177.0 72.8L178.3 73.5L179.7 74.3L181.0 75.1L182.3 75.9L183.6 76.8L184.9 77.6L186.1 78.6L187.3 79.5L188.5 80.5L189.6 81.5L190.6 82.6L191.7 83.7L192.6 84.8L193.6 85.9L194.5 87.1L195.3 88.3L196.2 89.5L197.0 90.7L197.8 92.0L198.5 93.3L199.2 94.6L199.9 95.9L200.6 97.2L201.2 98.6L201.8 99.9L202.4 101.3L203.0 102.7L203.6 104.1L204.2 105.5L204.7 106.9L205.2 108.3L205.7 109.7L206.3 111.2L206.8 112.6L207.3 114.0L207.8 115.4L208.2 116.9L208.7 118.3L209.2 119.7L209.7 121.1L210.1 122.6L210.6 124.0L211.0 125.4L211.5 126.9L211.9 128.3L212.3 129.8L212.8 131.2L213.2 132.6L213.6 134.1L214.0 135.5L214.4 137.0L214.8 138.4L215.2 139.8L215.6 141.3L216.0 142.7L216.3 144.2L216.7 145.6L217.1 147.1L217.4 148.5L217.8 150.0L218.1 151.4L218.5 152.9L218.8 154.3L219.2 155.8L219.5 157.3L219.8 158.7L220.2 160.2L220.5 161.6L220.8 163.1L221.1 164.5L221.4 166.0L221.7 167.5L222.0 168.9L222.3 170.4L222.6 171.9L222.9 173.3L223.1 174.8L223.4 176.3L223.7 177.7L223.9 179.2L224.2 180.7L224.5 182.1L224.7 183.6L225.0 185.1L225.2 186.6L225.5 188.0L225.7 189.5L225.9 191.0L226.2 192.5L226.4 193.9L226.6 195.4L226.8 196.9L227.1 198.4L227.3 199.8L227.5 201.3L227.7 202.8L227.9 204.3L228.1 205.8L228.3 207.2L228.5 208.7L228.7 210.2L228.9 211.7L229.1 213.2L229.3 214.7L229.4 216.1L229.6 217.6L229.8 219.1L230.0 220.6L230.1 222.1L230.3 223.6L230.5 225.1L230.6 226.5L230.8 228.0L231.0 229.5L231.1 231.0L231.3 232.5L231.4 234.0L231.6 235.5L231.7 237.0L231.9 238.5L232.0 240.0L232.2 241.5L232.3 242.9L232.4 244.4L232.6 245.9L232.7 247.4L232.8 248.9L233.0 250.4L233.1 251.9L233.2 253.4L233.4 254.9L233.5 256.4L233.6 257.9L233.7 259.4L233.9 260.9L234.0 262.4L234.1 263.9L234.2 265.4L234.3 266.9L234.5 268.4L234.6 269.9L234.7 271.4L234.8 272.9L234.9 274.4L235.0 275.9L235.2 277.4L235.3 278.9L235.4 280.4L235.5 281.9L235.6 283.4L235.7 284.9L235.8 286.4L235.9 287.9L236.0 289.4L236.1 290.9L236.2 292.4L236.4 293.9L236.5 295.4L236.6 296.9L236.7 298.4L236.8 299.9L236.9 301.4L237.0 302.9L237.1 304.4L237.2 305.9L237.3 307.4L237.4 308.9L237.5 310.4L237.6 311.9L237.7 313.4L237.8 314.9L237.9 316.4L238.0 317.9L238.1 319.4L238.2 320.9L238.3 322.4L238.4 323.9L238.5 325.4L238.6 326.9L238.7 328.4L238.8 329.9L238.9 331.4L238.9 332.9L239.0 334.4L239.1 335.9L239.2 337.4L239.3 338.9L239.4 340.4L239.5 341.9L239.6 343.4L239.7 344.9L239.8 346.4L239.9 347.9L239.9 349.4L240.0 350.9L240.1 352.4L240.2 353.9L240.3 355.4L240.4 356.9L240.5 358.4L240.6 359.9L240.6 361.4L240.7 362.9L240.8 364.4L240.9 365.9L241.0 367.4L241.1 368.9L241.2 370.4L241.2 371.9L241.3 373.4L241.4 374.9L241.5 376.4L241.6 377.9L241.6 379.4L241.7 380.9L241.8 382.4L241.9 384.0L242.0 385.5L242.0 387.0L242.1 388.5L242.2 390.0L242.3 391.5L242.4 393.0L242.4 394.5L242.5 396.0L242.6 397.5L242.7 399.0L242.8 400.5L242.8 402.0L242.9 403.5L243.0 405.0L243.1 406.5L243.1 408.0L243.2 409.5L243.3 411.0L243.4 412.5L243.4 414.0L243.5 415.5L243.6 417.0L243.7 418.5L243.7 420.0L243.8 421.5L243.9 423.0L243.9 424.5L244.0 426.0L244.1 427.5L244.2 429.0L244.2 430.5L244.3 432.0L244.4 433.5L244.4 435.0L244.5 436.5L244.6 438.0L244.7 439.5L244.7 441.0L244.8 442.5L244.9 444.0L244.9 445.5L245.0 447.0L245.1 448.5L245.1 450.0L245.2 451.5L245.3 453.0L245.3 454.5L245.4 456.0L245.5 457.5L245.5 459.0L245.6 460.5L245.7 462.0L245.7 463.5L245.8 465.0L245.9 466.5L245.9 468.0L246.0 469.5L246.1 471.0L246.1 472.5L246.2 474.0L246.3 475.5L246.3 477.0L246.4 478.5L246.5 480.0L246.5 481.5L246.6 483.0L246.7 484.5L246.7 485.9L246.8 487.4L246.9 488.9L246.9 490.4L247.0 491.9L247.0 493.4L247.1 494.9L247.2 496.4L247.2 497.9L247.3 499.4L247.4 500.9L247.4 502.4L247.5 503.9L247.5 505.4L247.6 506.9L247.7 508.4L247.7 509.9L247.8 511.4L247.9 512.8L247.9 514.3L248.0 515.8L248.0 517.3L248.1 518.8L248.2 520.3L248.2 521.8L248.3 523.3L248.4 524.8L248.4 526.3L248.5 527.8L248.5 529.3L248.6 530.7L248.7 532.2L248.7 533.7L248.8 535.2L248.9 536.7L248.9 538.2L249.0 539.7L249.0 541.2L249.1 542.7L249.2 544.2L249.2 545.6L249.3 547.1L249.3 548.6L249.4 550.1L249.5 551.6L249.5 553.1L249.6 554.6L249.7 556.1L249.7 557.5L249.8 559.0L249.8 560.5L249.9 562.0L250.0 563.5L250.0 565.0L250.1 566.5L250.1 568.0L250.2 569.4L250.3 570.9L250.3 572.4L250.4 573.9L250.4 575.4L250.5 576.9L250.6 578.4L250.6 579.9L250.7 581.3L250.7 582.8L250.8 584.3L250.9 585.8L250.9 587.3L251.0 588.8L251.0 590.3L251.1 591.8L251.2 593.2L251.2 594.7L251.3 596.2L251.3 597.7L251.4 599.2L251.4 600.7L251.5 602.2L251.6 603.6L251.6 605.1L251.7 606.6L251.7 608.1L251.8 609.6L251.9 611.1L251.9 612.6L252.0 614.1L252.0 615.6L252.1 617.0L252.1 618.5L252.2 620.0L252.3 621.5L252.3 623.0L252.4 624.5L252.4 626.0L252.5 627.5L252.5 629.0L252.6 630.4L252.7 631.9L252.7 633.4L252.8 634.9L252.8 636.4L252.9 637.9L252.9 639.4L253.0 640.9L253.0 642.4L253.1 643.9L253.2 645.4L253.2 646.9L253.3 648.4L253.3 649.8L253.4 651.3L253.4 652.8L253.5 654.3L253.5 655.8L253.6 657.3L253.6 658.8L253.7 660.3L253.8 661.8L253.8 663.3L253.9 664.8L253.9 666.3L254.0 667.8L254.0 669.3L254.1 670.8L254.1 672.3L254.2 673.8L254.2 675.3L254.3 676.8L254.3 678.3L254.4 679.8L254.4 681.3L254.5 682.8L254.5 684.3L254.6 685.8L254.6 687.3L254.7 688.8L254.8 690.3L254.8 691.8L254.9 693.3L254.9 694.8L255.0 696.3L255.0 697.8L255.1 699.3L255.1 700.9L255.2 702.4L255.2 703.9L255.3 705.4L255.3 706.9L255.3 708.4L255.4 709.9L255.4 711.4L255.5 712.9L255.5 714.4L255.6 716.0L255.6 717.5L255.7 719.0L255.7 720.5L255.8 722.0L255.8 723.5L255.9 725.1L255.9 726.6L256.0 728.1L256.0 729.6L256.1 731.1L256.1 732.6L256.2 734.2L256.2 735.7L256.2 737.2L256.3 738.7L256.3 740.3L256.4 741.8L256.4 743.3L256.5 744.8L256.5 746.4L256.6 747.9L256.6 749.4L256.6 750.9L256.7 752.5L256.7 754.0L256.8 755.5L256.8 757.1L256.9 758.6L256.9 760.1L256.9 761.7L257.0 763.2L257.0 764.7L257.1 766.3L257.1 767.8L257.1 769.3L257.2 770.9L257.2 772.4L257.3 774.0L257.3 775.5L257.3 777.0L257.4 778.6L257.4 780.1L257.5 781.6L257.5 783.2L257.5 784.7L257.6 786.2L257.6 787.8L257.7 789.3L257.7 790.8L257.8 792.3L257.8 793.9L257.8 795.4L257.9 796.9L257.9 798.4L258.0 799.9L258.0 801.4L258.1 803.0L258.1 804.5L258.1 806.0L258.2 807.5L258.2 808.9L258.3 810.4L258.3 811.9L258.4 813.4L258.4 814.9L258.5 816.3L258.5 817.8L258.6 819.3L258.6 820.7L258.7 822.2L258.7 823.6L258.8 825.1L258.8 826.5L258.9 827.9L258.9 829.3L259.0 830.7L259.1 832.2L259.1 833.6L259.2 835.0L259.2 836.3L259.3 837.7L259.4 839.1L259.4 840.5L259.5 841.8L259.6 843.2L259.6 844.5L259.7 845.8L259.8 847.2L259.8 848.5L259.9 849.8L260.0 851.1L260.1 852.4L260.2 853.7L260.2 855.0L260.3 856.3L260.4 857.6L260.5 858.9L260.6 860.2L260.6 861.5L260.7 862.8L260.8 864.2L260.9 865.6L261.0 866.9L261.1 868.3L261.2 869.8L261.3 871.2L261.4 872.7L261.5 874.2L261.6 875.7L261.7 877.3L261.8 878.9L261.9 880.5L262.0 882.2L262.1 883.9L262.2 885.7L262.3 887.5L262.4 889.3L262.5 891.2L262.6 893.2L262.8 895.2L262.9 897.2L263.0 899.4L263.1 901.5L263.2 903.7L263.4 906.0L263.5 908.2L263.6 910.5L263.7 912.7L263.9 914.8L264.0 916.9L264.2 918.9L264.3 920.8L264.5 922.6L264.7 924.3L264.9 925.8L265.1 927.1L265.3 928.3L265.5 929.2L265.7 929.9L265.9 930.4L266.2 930.6L266.5 930.6L266.7 930.2L267.0 929.5L267.3 928.6L267.7 927.4L268.0 926.1L268.3 924.5L268.6 922.9L269.0 921.1L269.3 919.3L269.6 917.4L269.9 915.6L270.2 913.8L270.5 912.1L270.8 910.4L271.1 908.8L271.3 907.2L271.6 905.6L271.8 904.1L272.1 902.6L272.3 901.2L272.5 899.7L272.7 898.3L273.0 896.9L273.2 895.5L273.4 894.1L273.5 892.8L273.7 891.4L273.9 890.0L274.1 888.6L274.3 887.2L274.4 885.8L274.6 884.3L274.7 882.9L274.9 881.5L275.0 880.0L275.2 878.6L275.3 877.1L275.4 875.7L275.6 874.2L275.7 872.7L275.8 871.2L276.0 869.7L276.1 868.3L276.2 866.8L276.3 865.3L276.5 863.8L276.6 862.3L276.7 860.8L276.8 859.2L276.9 857.7L277.0 856.2L277.1 854.7L277.2 853.2L277.4 851.7L277.5 850.2L277.6 848.7L277.7 847.1L277.8 845.6L277.9 844.1L278.0 842.6L278.1 841.1L278.2 839.6L278.4 838.1L278.5 836.6L278.6 835.1L278.7 833.6L278.8 832.1L278.9 830.5L279.0 829.0L279.1 827.5L279.3 826.0L279.4 824.5L279.5 823.0L279.6 821.5L279.7 820.0L279.8 818.5L279.9 817.0L280.1 815.5L280.2 814.0L280.3 812.5L280.4 811.0L280.5 809.5L280.6 808.0L280.8 806.5L280.9 805.0L281.0 803.5L281.1 802.0L281.2 800.5L281.3 799.0L281.5 797.5L281.6 796.0L281.7 794.5L281.8 793.0L281.9 791.5L282.0 790.0L282.2 788.5L282.3 787.0L282.4 785.5L282.5 784.0L282.6 782.5L282.8 781.0L282.9 779.5L283.0 778.0L283.1 776.5L283.2 775.0L283.4 773.5L283.5 772.0L283.6 770.5L283.7 769.0L283.8 767.5L284.0 766.1L284.1 764.6L284.2 763.1L284.3 761.6L284.5 760.1L284.6 758.6L284.7 757.1L284.8 755.6L284.9 754.1L285.1 752.6L285.2 751.1L285.3 749.6L285.4 748.1L285.6 746.6L285.7 745.2L285.8 743.7L285.9 742.2L286.1 740.7L286.2 739.2L286.3 737.7L286.4 736.2L286.6 734.7L286.7 733.2L286.8 731.7L286.9 730.2L287.1 728.8L287.2 727.3L287.3 725.8L287.5 724.3L287.6 722.8L287.7 721.3L287.8 719.8L288.0 718.3L288.1 716.8L288.2 715.3L288.4 713.9L288.5 712.4L288.6 710.9L288.7 709.4L288.9 707.9L289.0 706.4L289.1 704.9L289.3 703.4L289.4 701.9L289.5 700.4L289.7 699.0L289.8 697.5L289.9 696.0L290.1 694.5L290.2 693.0L290.3 691.5L290.5 690.0L290.6 688.5L290.7 687.0L290.9 685.5L291.0 684.1L291.1 682.6L291.3 681.1L291.4 679.6L291.5 678.1L291.7 676.6L291.8 675.1L291.9 673.6L292.1 672.1L292.2 670.6L292.4 669.2L292.5 667.7L292.6 666.2L292.8 664.7L292.9 663.2L293.0 661.7L293.2 660.2L293.3 658.7L293.5 657.2L293.6 655.7L293.7 654.2L293.9 652.7L294.0 651.3L294.2 649.8L294.3 648.3L294.4 646.8L294.6 645.3L294.7 643.8L294.9 642.3L295.0 640.8L295.1 639.3L295.3 637.8L295.4 636.3L295.6 634.8L295.7 633.3L295.9 631.8L296.0 630.3L296.1 628.8L296.3 627.3L296.4 625.8L296.6 624.4L296.7 622.9L296.9 621.4L297.0 619.9L297.2 618.4L297.3 616.9L297.5 615.4L297.6 613.9L297.7 612.4L297.9 610.9L298.0 609.4L298.2 607.9L298.3 606.4L298.5 604.9L298.6 603.4L298.8 601.9L298.9 600.4L299.1 598.9L299.2 597.4L299.4 595.9L299.5 594.4L299.7 592.9L299.9 591.4L300.0 589.9L300.2 588.4L300.3 586.9L300.5 585.4L300.7 583.9L300.8 582.4L301.0 580.9L301.2 579.4L301.3 577.9L301.5 576.4L301.7 574.9L301.8 573.4L302.0 571.9L302.2 570.4L302.4 568.9L302.6 567.4L302.7 565.9L302.9 564.4L303.1 563.0L303.3 561.5L303.5 560.0L303.7 558.5L303.9 557.0L304.1 555.5L304.3 554.0L304.5 552.6L304.7 551.1L305.0 549.6L305.2 548.1L305.4 546.6L305.6 545.2L305.8 543.7L306.1 542.2L306.3 540.7L306.6 539.3L306.8 537.8L307.0 536.3L307.3 534.9L307.5 533.4L307.8 531.9L308.1 530.5L308.3 529.0L308.6 527.6L308.9 526.1L309.2 524.7L309.4 523.2L309.7 521.7L310.0 520.3L310.3 518.9L310.6 517.4L310.9 516.0L311.2 514.5L311.5 513.1L311.8 511.6L312.1 510.2L312.4 508.7L312.8 507.3L313.1 505.8L313.4 504.4L313.7 502.9L314.0 501.4L314.2 500.0L314.5 498.5L314.8 497.0L315.1 495.5L315.3 494.0L315.6 492.5L315.8 490.9L316.1 489.4L316.3 487.8L316.5 486.3L316.8 484.7L317.0 483.2L317.2 481.6L317.4 480.0L317.7 478.5L318.0 476.9L318.2 475.4L318.5 473.8L318.9 472.3L319.2 470.8L319.6 469.3L320.1 467.9L320.5 466.4L321.1 465.0L321.6 463.6L322.2 462.2L322.9 460.9L323.6 459.6L324.4 458.3L325.2 457.1L326.2 455.9L327.2 454.7L328.2 453.6L329.3 452.6L330.5 451.7L331.8 451.1L333.0 450.8L334.3 451.0L335.5 451.5L336.6 452.3L337.7 453.3L338.6 454.4L339.5 455.6L340.3 456.9L341.0 458.2L341.6 459.6L342.2 461.1L342.7 462.6L343.1 464.1L343.5 465.7L343.9 467.3L344.2 468.9L344.6 470.5L344.9 472.1L345.2 473.6L345.5 475.2L345.7 476.8L346.0 478.3L346.3 479.8L346.6 481.3L346.9 482.8L347.2 484.3L347.4 485.8L347.7 487.2L348.0 488.7L348.3 490.2L348.5 491.7L348.8 493.1L349.0 494.6L349.3 496.1L349.5 497.5L349.8 499.0L350.0 500.5L350.3 501.9L350.5 503.4L350.8 504.9L351.0 506.3L351.3 507.8L351.5 509.3L351.7 510.7L351.9 512.2L352.2 513.7L352.4 515.1L352.6 516.6L352.8 518.1L353.0 519.5L353.3 521.0L353.5 522.5L353.7 523.9L353.9 525.4L354.1 526.9L354.3 528.3L354.5 529.8L354.7 531.3L354.9 532.8L355.1 534.2L355.3 535.7L355.5 537.2L355.7 538.6L355.8 540.1L356.0 541.6L356.2 543.0L356.4 544.5L356.6 546.0L356.7 547.5L356.9 548.9L357.1 550.4L357.3 551.9L357.4 553.4L357.6 554.8L357.8 556.3L357.9 557.8L358.1 559.3L358.3 560.7L358.4 562.2L358.6 563.7L358.7 565.2L358.9 566.6L359.1 568.1L359.2 569.6L359.4 571.1L359.5 572.6L359.7 574.0L359.8 575.5L360.0 577.0L360.1 578.5L360.3 580.0L360.4 581.5L360.5 582.9L360.7 584.4L360.8 585.9L361.0 587.4L361.1 588.9L361.2 590.4L361.4 591.9L361.5 593.3L361.7 594.8L361.8 596.3L361.9 597.8L362.1 599.3L362.2 600.8L362.3 602.3L362.5 603.8L362.6 605.3L362.7 606.8L362.8 608.3L363.0 609.8L363.1 611.3L363.2 612.8L363.4 614.3L363.5 615.8L363.6 617.3L363.7 618.8L363.9 620.3L364.0 621.8L364.1 623.3L364.2 624.8L364.4 626.3L364.5 627.8L364.6 629.4L364.7 630.9L364.8 632.4L365.0 633.9L365.1 635.4L365.2 636.9L365.3 638.5L365.5 640.0L365.6 641.5L365.7 643.0L365.8 644.5L365.9 646.1L366.1 647.6L366.2 649.1L366.3 650.6L366.4 652.2L366.6 653.7L366.7 655.2L366.8 656.8L366.9 658.3L367.1 659.8L367.2 661.4L367.3 662.9L367.4 664.5L367.6 666.0L367.7 667.5L367.8 669.1L367.9 670.6L368.1 672.2L368.2 673.7L368.3 675.3L368.5 676.8L368.6 678.4L368.7 679.9L368.9 681.5L369.0 683.0L369.1 684.6L369.3 686.1L369.4 687.7L369.5 689.2L369.7 690.7L369.8 692.3L369.9 693.8L370.1 695.3L370.2 696.8L370.3 698.3L370.5 699.8L370.6 701.3L370.7 702.8L370.9 704.3L371.0 705.8L371.1 707.3L371.3 708.7L371.4 710.2L371.6 711.7L371.7 713.1L371.8 714.5L372.0 715.9L372.1 717.4L372.2 718.8L372.4 720.1L372.5 721.5L372.6 722.9L372.8 724.2L372.9 725.6L373.0 726.9L373.2 728.2L373.3 729.5L373.4 730.8L373.6 732.1L373.7 733.3L373.8 734.6L374.0 735.8L374.1 737.1L374.2 738.3L374.4 739.6L374.5 740.8L374.7 742.0L374.8 743.3L374.9 744.5L375.1 745.8L375.2 747.1L375.4 748.3L375.5 749.6L375.6 750.9L375.8 752.3L375.9 753.6L376.1 755.0L376.2 756.3L376.4 757.7L376.6 759.2L376.7 760.6L376.9 762.1L377.0 763.7L377.2 765.2L377.4 766.8L377.6 768.4L377.7 770.1L377.9 771.8L378.1 773.5L378.3 775.3L378.5 777.2L378.7 779.1L378.9 781.0L379.1 783.0L379.3 785.0L379.5 787.1L379.7 789.3L379.9 791.5L380.2 793.7L380.4 796.0L380.7 798.1L380.9 800.2L381.2 802.1L381.5 803.8L381.9 805.3L382.3 806.6L382.7 807.5L383.1 808.0L383.6 808.1L384.2 807.8L384.8 807.0L385.4 805.8L386.0 804.4L386.7 802.8L387.3 801.2L387.9 799.5L388.5 798.0L389.1 796.5L389.7 795.0L390.2 793.5L390.7 792.1L391.2 790.7L391.7 789.3L392.2 787.9L392.6 786.5L393.1 785.1L393.5 783.7L393.9 782.3L394.3 780.9L394.7 779.4L395.1 778.0L395.4 776.6L395.8 775.1L396.1 773.7L396.4 772.3L396.7 770.8L397.0 769.4L397.3 767.9L397.6 766.5L397.9 765.0L398.2 763.5L398.4 762.1L398.6 760.6L398.9 759.1L399.1 757.7L399.3 756.2L399.6 754.7L399.8 753.2L400.0 751.7L400.2 750.3L400.4 748.8L400.5 747.3L400.7 745.8L400.9 744.3L401.1 742.8L401.2 741.3L401.4 739.8L401.6 738.3L401.7 736.8L401.9 735.4L402.0 733.9L402.2 732.4L402.3 730.9L402.5 729.4L402.7 727.9L402.8 726.4L403.0 724.9L403.1 723.4L403.3 721.9L403.4 720.4L403.6 718.9L403.7 717.4L403.8 715.9L404.0 714.4L404.1 712.9L404.3 711.4L404.4 709.9L404.6 708.4L404.7 706.9L404.9 705.5L405.0 704.0L405.2 702.5L405.3 701.0L405.4 699.5L405.6 698.0L405.7 696.5L405.9 695.0L406.0 693.5L406.2 692.0L406.3 690.5L406.4 689.0L406.6 687.5L406.7 686.0L406.9 684.5L407.0 683.0L407.1 681.5L407.3 680.0L407.4 678.6L407.6 677.1L407.7 675.6L407.8 674.1L408.0 672.6L408.1 671.1L408.3 669.6L408.4 668.1L408.5 666.6L408.7 665.1L408.8 663.6L409.0 662.1L409.1 660.6L409.2 659.1L409.4 657.6L409.5 656.1L409.6 654.7L409.8 653.2L409.9 651.7L410.1 650.2L410.2 648.7L410.3 647.2L410.5 645.7L410.6 644.2L410.8 642.7L410.9 641.2L411.0 639.7L411.2 638.2L411.3 636.7L411.5 635.2L411.6 633.8L411.7 632.3L411.9 630.8L412.0 629.3L412.2 627.8L412.3 626.3L412.5 624.8L412.6 623.3L412.7 621.8L412.9 620.3L413.0 618.8L413.2 617.3L413.3 615.8L413.5 614.4L413.6 612.9L413.8 611.4L413.9 609.9L414.0 608.4L414.2 606.9L414.3 605.4L414.5 603.9L414.6 602.4L414.8 600.9L414.9 599.4L415.1 597.9L415.2 596.5L415.4 595.0L415.5 593.5L415.7 592.0L415.8 590.5L416.0 589.0L416.2 587.5L416.3 586.0L416.5 584.5L416.6 583.0L416.8 581.5L416.9 580.1L417.1 578.6L417.3 577.1L417.4 575.6L417.6 574.1L417.7 572.6L417.9 571.1L418.1 569.6L418.2 568.1L418.4 566.6L418.6 565.2L418.7 563.7L418.9 562.2L419.1 560.7L419.2 559.2L419.4 557.7L419.6 556.2L419.7 554.7L419.9 553.2L420.1 551.8L420.2 550.3L420.4 548.8L420.6 547.3L420.8 545.8L421.0 544.3L421.1 542.8L421.3 541.3L421.5 539.8L421.7 538.4L421.9 536.9L422.0 535.4L422.2 533.9L422.4 532.4L422.6 530.9L422.8 529.4L423.0 527.9L423.2 526.5L423.4 525.0L423.5 523.5L423.7 522.0L423.9 520.5L424.1 519.0L424.3 517.5L424.5 516.0L424.7 514.6L424.9 513.1L425.1 511.6L425.3 510.1L425.5 508.6L425.7 507.1L425.9 505.6L426.1 504.2L426.3 502.7L426.5 501.2L426.7 499.7L426.9 498.2L427.2 496.7L427.4 495.2L427.6 493.8L427.8 492.3L428.0 490.8L428.2 489.3L428.4 487.8L428.7 486.3L428.9 484.8L429.1 483.4L429.3 481.9L429.5 480.4L429.8 478.9L430.0 477.4L430.2 475.9L430.4 474.5L430.7 473.0L430.9 471.5L431.1 470.0L431.3 468.5L431.6 467.0L431.8 465.6L432.0 464.1L432.3 462.6L432.5 461.1L432.8 459.6L433.0 458.2L433.2 456.7L433.5 455.2L433.7 453.7L434.0 452.2L434.2 450.7L434.4 449.3L434.7 447.8L434.9 446.3L435.2 444.8L435.4 443.3L435.7 441.9L435.9 440.4L436.2 438.9L436.4 437.4L436.7 435.9L437.0 434.5L437.2 433.0L437.5 431.5L437.7 430.0L438.0 428.6L438.3 427.1L438.5 425.6L438.8 424.1L439.1 422.6L439.3 421.2L439.6 419.7L439.9 418.2L440.2 416.7L440.5 415.3L440.8 413.8L441.1 412.3L441.4 410.9L441.7 409.4L442.0 407.9L442.3 406.5L442.6 405.0L443.0 403.6L443.3 402.1L443.7 400.7L444.0 399.2L444.4 397.8L444.8 396.3L445.2 394.9L445.6 393.4L446.0 392.0L446.4 390.6L446.8 389.1L447.3 387.7L447.7 386.3L448.2 384.9L448.7 383.5L449.1 382.0L449.6 380.6L450.2 379.2L450.7 377.8L451.2 376.4L451.8 375.1L452.4 373.7L453.0 372.3L453.5 370.9L454.2 369.5L454.8 368.2L455.4 366.8L456.0 365.4L456.7 364.0L457.3 362.7L457.9 361.3L458.6 359.9L459.2 358.6L459.8 357.2L460.5 355.8L461.1 354.4L461.7 353.1L462.3 351.7L462.9 350.3L463.5 348.9L464.1 347.5L464.6 346.1L465.2 344.6L465.7 343.2L466.3 341.8L466.8 340.4L467.4 339.0L467.9 337.6L468.5 336.2L469.0 334.8L469.6 333.4L470.2 332.0L470.8 330.6L471.4 329.3L472.0 327.9L472.6 326.6L473.3 325.2L473.9 323.9L474.6 322.6L475.4 321.3L476.1 320.0L476.9 318.8L477.7 317.5L478.5 316.3L479.4 315.1L480.3 313.9L481.2 312.7L482.1 311.6L483.1 310.5L484.1 309.4L485.1 308.3L486.1 307.2L487.2 306.1L488.3 305.1L489.4 304.1L490.5 303.1L491.6 302.1L492.8 301.2L494.0 300.3L495.2 299.3L496.4 298.5L497.6 297.6L498.9 296.7L500.2 295.9L501.5 295.1L502.8 294.3L504.1 293.6L505.4 292.8L506.7 292.1L508.1 291.4L509.5 290.7L510.9 290.1L512.2 289.5L513.6 288.9L515.1 288.3L516.5 287.8L517.9 287.3L519.3 286.8L520.8 286.3L522.2 285.9L523.7 285.5L525.2 285.2L526.6 284.8L528.1 284.5L529.6 284.3L531.1 284.1L532.6 283.9L534.0 283.7L535.5 283.6L537.0 283.6L538.5 283.5L540.0 283.6L541.5 283.6L543.0 283.7L544.4 283.9L545.9 284.0L547.4 284.2L548.9 284.5L550.3 284.8L551.8 285.1L553.3 285.5L554.7 285.9L556.1 286.3L557.6 286.8L559.0 287.3L560.4 287.8L561.8 288.4L563.2 289.0L564.6 289.6L565.9 290.2L567.3 290.9L568.6 291.6L569.9 292.4L571.2 293.1L572.5 293.9L573.7 294.8L575.0 295.6L576.2 296.5L577.4 297.4L578.6 298.3L579.8 299.2L580.9 300.1L582.1 301.1L583.2 302.1L584.3 303.1L585.4 304.2L586.5 305.2L587.5 306.3L588.6 307.4L589.6 308.5L590.6 309.6L591.6 310.7L592.6 311.9L593.5 313.0L594.5 314.2L595.4 315.4L596.3 316.6L597.2 317.8L598.1 319.0L599.0 320.2L599.8 321.4L600.7 322.7L601.5 323.9L602.3 325.2L603.1 326.4L603.9 327.7L604.7 329.0L605.4 330.3L606.2 331.5L606.9 332.8L607.6 334.1L608.3 335.5L609.0 336.8L609.7 338.1L610.4 339.4L611.1 340.8L611.7 342.1L612.3 343.5L613.0 344.8L613.6 346.2L614.2 347.5L614.8 348.9L615.4 350.3L616.0 351.7L616.6 353.1L617.1 354.5L617.7 355.8L618.2 357.2L618.8 358.6L619.3 360.1L619.8 361.5L620.3 362.9L620.8 364.3L621.3 365.7L621.8 367.1L622.3 368.6L622.8 370.0L623.2 371.4L623.7 372.9L624.2 374.3L624.6 375.7L625.1 377.2L625.5 378.6L626.0 380.1L626.4 381.5L626.8 383.0L627.2 384.4L627.7 385.9L628.1 387.3L628.5 388.8L628.9 390.2L629.3 391.7L629.7 393.1L630.1 394.6L630.5 396.0L630.9 397.5L631.3 398.9L631.7 400.4L632.0 401.8L632.4 403.3L632.8 404.7L633.2 406.2L633.5 407.7L633.9 409.1L634.3 410.6L634.6 412.0L635.0 413.5L635.3 414.9L635.7 416.4L636.0 417.9L636.4 419.3L636.7 420.8L637.1 422.2L637.4 423.7L637.8 425.2L638.1 426.6L638.4 428.1L638.7 429.6L639.1 431.0L639.4 432.5L639.7 433.9L640.0 435.4L640.3 436.9L640.7 438.3L641.0 439.8L641.3 441.3L641.6 442.7L641.9 444.2L642.2 445.7L642.5 447.1L642.8 448.6L643.1 450.1L643.4 451.5L643.7 453.0L644.0 454.5L644.2 455.9L644.5 457.4L644.8 458.9L645.1 460.4L645.4 461.8L645.7 463.3L645.9 464.8L646.2 466.2L646.5 467.7L646.7 469.2L647.0 470.7L647.3 472.1L647.5 473.6L647.8 475.1L648.1 476.6L648.3 478.0L648.6 479.5L648.8 481.0L649.1 482.5L649.4 483.9L649.6 485.4L649.9 486.9L650.1 488.4L650.4 489.8L650.6 491.3L650.9 492.8L651.1 494.3L651.3 495.7L651.6 497.2L651.8 498.7L652.1 500.2L652.3 501.7L652.5 503.1L652.8 504.6L653.0 506.1L653.3 507.6L653.5 509.0L653.7 510.5L654.0 512.0L654.2 513.5L654.4 515.0L654.6 516.5L654.9 517.9L655.1 519.4L655.3 520.9L655.6 522.4L655.8 523.9L656.0 525.3L656.2 526.8L656.5 528.3L656.7 529.8L656.9 531.3L657.1 532.8L657.3 534.2L657.6 535.7L657.8 537.2L658.0 538.7L658.2 540.2L658.5 541.7L658.7 543.1L658.9 544.6L659.1 546.1L659.3 547.6L659.6 549.1L659.8 550.6L660.0 552.1L660.2 553.5L660.4 555.0L660.7 556.5L660.9 558.0L661.1 559.5L661.3 561.0L661.5 562.5L661.7 563.9L662.0 565.4L662.2 566.9L662.4 568.4L662.6 569.9L662.8 571.4L663.1 572.9L663.3 574.4L663.5 575.8L663.7 577.3L663.9 578.8L664.2 580.3L664.4 581.8L664.6 583.3L664.8 584.8L665.0 586.2L665.3 587.7L665.5 589.2L665.7 590.7L665.9 592.2L666.2 593.7L666.4 595.2L666.6 596.6L666.8 598.1L667.1 599.6L667.3 601.1L667.5 602.6L667.7 604.1L668.0 605.5L668.2 607.0L668.4 608.5L668.7 610.0L668.9 611.5L669.1 613.0L669.4 614.4L669.6 615.9L669.8 617.4L670.1 618.9L670.3 620.4L670.5 621.9L670.8 623.3L671.0 624.8L671.3 626.3L671.5 627.8L671.8 629.3L672.0 630.7L672.2 632.2L672.5 633.7L672.7 635.2L673.0 636.6L673.2 638.1L673.5 639.6L673.7 641.1L674.0 642.6L674.2 644.0L674.5 645.5L674.8 647.0L675.0 648.5L675.3 649.9L675.5 651.4L675.8 652.9L676.1 654.3L676.3 655.8L676.6 657.3L676.9 658.8L677.1 660.2L677.4 661.7L677.7 663.2L678.0 664.6L678.2 666.1L678.5 667.6L678.8 669.0L679.1 670.5L679.4 672.0L679.7 673.4L680.0 674.9L680.2 676.4L680.5 677.8L680.8 679.3L681.1 680.8L681.4 682.2L681.7 683.7L682.0 685.1L682.3 686.6L682.6 688.1L682.9 689.5L683.3 691.0L683.6 692.4L683.9 693.9L684.3 695.3L684.7 696.8L685.1 698.2L685.5 699.7L685.9 701.1L686.4 702.6L686.9 704.0L687.4 705.4L687.9 706.9L688.5 708.3L689.1 709.7L689.7 711.2L690.4 712.6L691.1 714.0L691.8 715.4L692.7 716.8L693.5 718.1L694.5 719.2L695.6 720.2L696.9 720.8L698.2 721.2L699.6 721.3L701.0 721.1L702.4 720.6L703.7 719.9L705.0 719.1L706.1 718.2L707.2 717.2L708.2 716.2L709.1 715.1L710.0 713.9L710.8 712.7L711.6 711.4L712.3 710.1L713.0 708.7L713.6 707.3L714.3 705.9L714.9 704.5L715.5 703.1L716.1 701.7L716.6 700.3L717.2 698.8L717.8 697.4L718.4 696.0L718.9 694.6L719.5 693.2L720.1 691.7L720.6 690.3L721.2 688.9L721.8 687.5L722.3 686.1L722.9 684.7L723.4 683.2L724.0 681.8L724.5 680.4L725.0 679.0L725.6 677.6L726.1 676.2L726.7 674.8L727.2 673.3L727.7 671.9L728.3 670.5L728.8 669.1L729.3 667.7L729.8 666.3L730.4 664.9L730.9 663.5L731.4 662.1L731.9 660.6L732.4 659.2L733.0 657.8L733.5 656.4L734.0 655.0L734.5 653.6L735.0 652.2L735.5 650.8L736.1 649.4L736.6 648.0L737.1 646.6L737.6 645.2L738.1 643.8L738.6 642.4L739.1 641.0L739.6 639.5L740.1 638.1L740.6 636.7L741.2 635.3L741.7 633.9L742.2 632.5L742.7 631.1L743.2 629.7L743.7 628.3L744.2 626.9L744.7 625.5L745.2 624.1L745.8 622.7L746.3 621.3L746.8 619.9L747.3 618.5L747.8 617.1L748.3 615.7L748.9 614.3L749.4 612.9L749.9 611.5L750.4 610.1L750.9 608.8L751.5 607.4L752.0 606.0L752.5 604.6L753.1 603.2L753.6 601.8L754.1 600.4L754.7 599.0L755.2 597.6L755.7 596.2L756.3 594.8L756.8 593.4L757.4 592.1L757.9 590.7L758.5 589.3L759.1 587.9L759.6 586.5L760.2 585.1L760.7 583.8L761.3 582.4L761.9 581.0L762.5 579.6L763.0 578.2L763.6 576.9L764.2 575.5L764.8 574.1L765.4 572.8L766.0 571.4L766.6 570.0L767.2 568.7L767.8 567.3L768.4 565.9L769.0 564.6L769.6 563.2L770.3 561.8L770.9 560.5L771.5 559.1L772.2 557.8L772.8 556.4L773.5 555.1L774.1 553.7L774.8 552.4L775.4 551.0L776.1 549.7L776.8 548.4L777.5 547.0L778.1 545.7L778.8 544.4L779.5 543.0L780.2 541.7L780.9 540.4L781.6 539.0L782.4 537.7L783.1 536.4L783.8 535.1L784.5 533.8L785.3 532.5L786.0 531.1L786.8 529.8L787.5 528.5L788.3 527.2L789.1 525.9L789.9 524.6L790.6 523.3L791.4 522.0L792.2 520.7L793.0 519.5L793.8 518.2L794.7 516.9L795.5 515.6L796.3 514.3L797.2 513.1L798.0 511.8L798.9 510.5L799.7 509.3L800.6 508.0L801.5 506.8L802.4 505.5L803.3 504.3L804.2 503.1L805.1 501.9L806.0 500.7L806.9 499.4L807.9 498.2L808.8 497.1L809.8 495.9L810.7 494.7L811.7 493.5L812.7 492.4L813.7 491.2L814.7 490.1L815.7 489.0L816.7 487.9L817.7 486.7L818.7 485.6L819.8 484.6L820.8 483.5L821.9 482.4L822.9 481.4L824.0 480.3L825.1 479.3L826.2 478.3L827.3 477.3L828.4 476.3L829.6 475.4L830.7 474.4L831.8 473.5L833.0 472.5L834.2 471.6L835.3 470.7L836.5 469.9L837.7 469.0L838.9 468.1L840.1 467.3L841.4 466.5L842.6 465.7L843.8 464.9L845.1 464.2L846.4 463.4L847.7 462.7L848.9 462.0L850.2 461.2L851.5 460.6L852.9 459.9L854.2 459.2L855.5 458.6L856.8 458.0L858.2 457.4L859.5 456.8L860.9 456.2L862.3 455.6L863.6 455.1L865.0 454.5L866.4 454.0L867.8 453.5L869.2 453.0L870.6 452.5L872.0 452.0L873.5 451.6L874.9 451.1L876.3 450.7L877.8 450.3L879.2 449.9L880.7 449.5L882.1 449.1L883.6 448.7L885.0 448.4L886.5 448.0L888.0 447.7L889.4 447.3L890.9 447.0L892.4 446.7L893.9 446.4L895.4 446.2L896.8 445.9L898.3 445.6L899.8 445.4L901.3 445.1L902.8 444.9L904.3 444.7L905.8 444.5L907.3 444.3L908.8 444.1L910.3 443.9L911.8 443.8L913.3 443.6L914.8 443.4L916.4 443.3L917.9 443.2L919.4 443.0L920.9 442.9L922.4 442.8L923.9 442.7L925.4 442.6L926.9 442.5L928.4 442.4L929.9 442.4L931.4 442.3L932.9 442.3L934.4 442.2L935.9 442.2L937.4 442.1L938.9 442.1L940.4 442.1L941.9 442.1L943.4 442.1L944.9 442.1L946.4 442.1L947.9 442.1L949.4 442.1L950.9 442.1L952.4 442.2L953.9 442.2L955.4 442.3L956.9 442.3L958.4 442.4L959.9 442.4L961.4 442.5L962.9 442.6L964.4 442.7L965.9 442.8L967.4 442.8L968.9 442.9L970.3 443.0L971.8 443.2L973.3 443.3L974.8 443.4L976.3 443.5L977.8 443.6L979.3 443.8L980.8 443.9L982.3 444.0L983.8 444.2L985.3 444.3L986.8 444.5L988.2 444.6L989.7 444.8L991.2 445.0L992.7 445.1L994.2 445.3L995.7 445.5L997.2 445.7L998.7 445.8L1000.2 446.0L1001.6 446.2L1003.1 446.4L1004.6 446.6L1006.1 446.8L1007.6 447.0L1009.1 447.2L1010.6 447.4L1012.0 447.6L1013.5 447.8L1015.0 448.0L1016.5 448.3L1018.0 448.5L1019.5 448.7L1020.9 448.9L1022.4 449.1L1023.9 449.4L1025.4 449.6L1026.9 449.8L1028.4 450.1L1029.8 450.3L1031.3 450.5L1032.8 450.8L1034.3 451.0L1035.8 451.2L1037.3 451.5L1038.7 451.7L1040.2 451.9L1041.7 452.2L1043.2 452.4L1044.7 452.7L1046.1 452.9L1047.6 453.2L1049.1 453.4L1050.6 453.7L1052.1 453.9L1053.5 454.2L1055.0 454.4L1056.5 454.7L1058.0 454.9L1059.4 455.2L1060.9 455.4L1062.4 455.7L1063.9 456.0L1065.4 456.2L1066.8 456.5L1068.3 456.7L1069.8 457.0L1071.3 457.3L1072.7 457.5L1074.2 457.8L1075.7 458.1L1077.2 458.3L1078.6 458.6L1080.1 458.9L1081.6 459.2L1083.1 459.4L1084.5 459.7L1086.0 460.0L1087.5 460.3L1089.0 460.5L1090.4 460.8L1091.9 461.1L1093.4 461.4L1094.9 461.7L1096.3 461.9L1097.8 462.2L1099.3 462.5L1100.7 462.8L1102.2 463.1L1103.7 463.4L1105.2 463.7L1106.6 463.9L1108.1 464.2L1109.6 464.5L1111.0 464.8L1112.5 465.1L1114.0 465.4L1115.5 465.7L1116.9 466.0L1118.4 466.3L1119.9 466.6L1121.3 466.9L1122.8 467.2L1124.3 467.5L1125.7 467.8L1127.2 468.1L1128.7 468.4L1130.2 468.7L1131.6 469.0L1133.1 469.3L1134.6 469.6L1136.0 469.9L1137.5 470.2L1139.0 470.6L1140.4 470.9L1141.9 471.2L1143.4 471.5L1144.8 471.8L1146.3 472.1L1147.8 472.4L1149.2 472.7L1150.7 473.1L1152.2 473.4L1153.6 473.7L1155.1 474.0L1156.6 474.3L1158.0 474.7L1159.5 475.0L1161.0 475.3L1162.4 475.6L1163.9 475.9L1165.3 476.3L1166.8 476.6L1168.3 476.9L1169.7 477.2L1171.2 477.6L1172.7 477.9L1174.1 478.2L1175.6 478.5L1177.1 478.9L1178.5 479.2L1180.0 479.5L1181.4 479.9L1182.9 480.2L1184.4 480.5L1185.8 480.9L1187.3 481.2L1188.8 481.5L1190.2 481.9L1191.7 482.2L1193.1 482.5L1194.6 482.9L1196.1 483.2L1197.5 483.5L1199.0 483.9L1200.4 484.2L1201.9 484.6L1203.4 484.9L1204.8 485.2L1206.3 485.6L1207.8 485.9L1209.2 486.3L1210.7 486.6L1212.1 487.0L1213.6 487.3L1215.0 487.6L1216.5 488.0L1218.0 488.3L1219.4 488.7L1220.9 489.0L1222.3 489.4L1223.8 489.7L1225.3 490.1L1226.7 490.4L1228.2 490.8L1229.6 491.1L1231.1 491.5L1232.6 491.8L1234.0 492.2L1235.5 492.5L1236.9 492.9L1238.4 493.2L1239.8 493.6L1241.3 493.9L1242.8 494.3L1244.2 494.6L1245.7 495.0L1247.1 495.3L1248.6 495.7L1250.0 496.0L1251.5 496.4L1252.9 496.8L1254.4 497.1L1255.9 497.5L1257.3 497.8L1258.8 498.2L1260.2 498.5L1261.7 498.9L1263.1 499.3L1264.6 499.6L1266.0 500.0L1267.5 500.3L1269.0 500.7L1270.4 501.1L1271.9 501.4L1273.3 501.8L1274.8 502.1L1276.2 502.5L1277.7 502.9L1279.1 503.2L1280.6 503.6L1282.0 504.0L1283.5 504.3L1285.0 504.7L1286.4 505.0L1287.9 505.4L1289.3 505.8L1290.8 506.1L1292.2 506.5L1293.7 506.9L1295.1 507.2L1296.6 507.6L1298.0 508.0L1299.5 508.3L1300.9 508.7L1302.4 509.1L1303.8 509.4L1305.3 509.8L1306.8 510.2L1308.2 510.6L1309.7 510.9L1311.1 511.3L1312.6 511.7L1314.0 512.0L1315.5 512.4L1316.9 512.8L1318.4 513.1L1319.8 513.5L1321.3 513.9L1322.7 514.3L1324.2 514.6L1325.6 515.0L1327.1 515.4L1328.5 515.8L1330.0 516.1L1331.4 516.5L1332.9 516.9L1334.3 517.2L1335.8 517.6L1337.2 518.0L1338.7 518.4L1340.1 518.7L1341.6 519.1L1343.1 519.5L1344.5 519.9L1346.0 520.2L1347.4 520.6L1348.9 521.0L1350.3 521.4L1351.8 521.8L1353.2 522.1L1354.7 522.5L1356.1 522.9L1357.6 523.3L1359.0 523.6L1360.5 524.0L1361.9 524.4L1363.4 524.8L1364.8 525.2L1366.3 525.5L1367.7 525.9"/>
<path stroke="#FFB100" d="M170.6 67.9L172.0 68.4L173.3 69.0L174.6 69.6L176.0 70.2L177.3 70.9L178.6 71.5L179.9 72.3L181.2 73.0L182.5 73.8L183.7 74.6L185.0 75.4L186.3 76.3L187.5 77.2L188.7 78.1L189.9 79.0L191.1 80.0L192.3 81.0L193.4 82.0L194.5 83.0L195.6 84.1L196.7 85.1L197.8 86.2L198.8 87.3L199.8 88.5L200.8 89.6L201.7 90.8L202.7 91.9L203.6 93.1L204.5 94.3L205.3 95.5L206.2 96.8L207.0 98.0L207.8 99.3L208.6 100.5L209.3 101.8L210.1 103.1L210.8 104.4L211.5 105.7L212.2 107.0L212.8 108.3L213.5 109.7L214.1 111.0L214.7 112.4L215.3 113.7L215.9 115.1L216.5 116.4L217.1 117.8L217.6 119.2L218.2 120.6L218.7 122.0L219.2 123.4L219.7 124.8L220.1 126.2L220.6 127.6L221.1 129.0L221.5 130.4L221.9 131.8L222.4 133.2L222.8 134.7L223.2 136.1L223.6 137.6L224.0 139.0L224.3 140.4L224.7 141.9L225.0 143.4L225.4 144.8L225.7 146.3L226.0 147.7L226.4 149.2L226.7 150.7L227.0 152.1L227.3 153.6L227.6 155.1L227.8 156.6L228.1 158.0L228.4 159.5L228.6 161.0L228.9 162.5L229.2 164.0L229.4 165.5L229.7 167.0L229.9 168.5L230.1 169.9L230.4 171.4L230.6 172.9L230.8 174.4L231.1 175.9L231.3 177.4L231.5 178.9L231.7 180.4L231.9 181.9L232.1 183.4L232.4 184.9L232.6 186.4L232.8 187.9L233.0 189.4L233.2 190.8L233.4 192.3L233.6 193.8L233.8 195.3L234.0 196.8L234.2 198.3L234.4 199.8L234.6 201.3L234.8 202.8L235.0 204.3L235.2 205.8L235.4 207.3L235.5 208.7L235.7 210.2L235.9 211.7L236.1 213.2L236.3 214.7L236.5 216.2L236.6 217.7L236.8 219.2L237.0 220.7L237.2 222.2L237.3 223.7L237.5 225.1L237.7 226.6L237.8 228.1L238.0 229.6L238.2 231.1L238.3 232.6L238.5 234.1L238.7 235.6L238.8 237.1L239.0 238.6L239.1 240.0L239.3 241.5L239.5 243.0L239.6 244.5L239.8 246.0L239.9 247.5L240.1 249.0L240.2 250.5L240.4 252.0L240.5 253.5L240.7 254.9L240.8 256.4L240.9 257.9L241.1 259.4L241.2 260.9L241.4 262.4L241.5 263.9L241.6 265.4L241.8 266.9L241.9 268.4L242.0 269.8L242.2 271.3L242.3 272.8L242.4 274.3L242.6 275.8L242.7 277.3L242.8 278.8L242.9 280.3L243.1 281.8L243.2 283.3L243.3 284.8L243.4 286.2L243.5 287.7L243.7 289.2L243.8 290.7L243.9 292.2L244.0 293.7L244.1 295.2L244.2 296.7L244.4 298.2L244.5 299.7L244.6 301.2L244.7 302.7L244.8 304.2L244.9 305.7L245.0 307.1L245.1 308.6L245.2 310.1L245.3 311.6L245.4 313.1L245.5 314.6L245.6 316.1L245.7 317.6L245.8 319.1L245.9 320.6L246.0 322.1L246.1 323.6L246.2 325.1L246.3 326.6L246.4 328.1L246.5 329.6L246.6 331.1L246.7 332.5L246.8 334.0L246.9 335.5L247.0 337.0L247.1 338.5L247.2 340.0L247.2 341.5L247.3 343.0L247.4 344.5L247.5 346.0L247.6 347.5L247.7 349.0L247.8 350.5L247.8 352.0L247.9 353.5L248.0 355.0L248.1 356.5L248.2 358.0L248.3 359.5L248.3 361.0L248.4 362.5L248.5 364.0L248.6 365.5L248.6 366.9L248.7 368.4L248.8 369.9L248.9 371.4L248.9 372.9L249.0 374.4L249.1 375.9L249.2 377.4L249.2 378.9L249.3 380.4L249.4 381.9L249.4 383.4L249.5 384.9L249.6 386.4L249.7 387.9L249.7 389.4L249.8 390.9L249.9 392.4L249.9 393.9L250.0 395.4L250.1 396.9L250.1 398.4L250.2 399.9L250.2 401.4L250.3 402.9L250.4 404.4L250.4 405.9L250.5 407.4L250.6 408.9L250.6 410.4L250.7 411.9L250.7 413.4L250.8 414.9L250.9 416.4L250.9 417.9L251.0 419.4L251.1 420.9L251.1 422.4L251.2 423.9L251.2 425.4L251.3 426.9L251.3 428.4L251.4 429.9L251.5 431.4L251.5 432.9L251.6 434.4L251.6 435.9L251.7 437.4L251.7 438.9L251.8 440.4L251.9 441.9L251.9 443.4L252.0 444.9L252.0 446.4L252.1 447.8L252.1 449.3L252.2 450.8L252.2 452.3L252.3 453.8L252.3 455.3L252.4 456.8L252.5 458.3L252.5 459.8L252.6 461.3L252.6 462.8L252.7 464.3L252.7 465.8L252.8 467.3L252.8 468.8L252.9 470.3L252.9 471.8L253.0 473.3L253.0 474.8L253.1 476.3L253.1 477.8L253.2 479.3L253.3 480.8L253.3 482.3L253.4 483.8L253.4 485.3L253.5 486.8L253.5 488.3L253.6 489.8L253.6 491.3L253.7 492.8L253.7 494.3L253.8 495.8L253.8 497.3L253.9 498.8L253.9 500.3L254.0 501.8L254.0 503.3L254.1 504.8L254.2 506.3L254.2 507.8L254.3 509.3L254.3 510.8L254.4 512.3L254.4 513.8L254.5 515.3L254.5 516.8L254.6 518.3L254.6 519.8L254.7 521.3L254.8 522.8L254.8 524.3L254.9 525.8L254.9 527.3L255.0 528.8L255.0 530.3L255.1 531.8L255.2 533.3L255.2 534.8L255.3 536.3L255.3 537.8L255.4 539.3L255.4 540.8L255.5 542.3L255.6 543.8L255.6 545.3L255.7 546.8L255.7 548.3L255.8 549.8L255.9 551.3L255.9 552.8L256.0 554.3L256.0 555.8L256.1 557.3L256.2 558.8L256.2 560.3L256.3 561.8L256.3 563.3L256.4 564.8L256.5 566.3L256.5 567.8L256.6 569.3L256.6 570.8L256.7 572.3L256.8 573.8L256.8 575.3L256.9 576.8L257.0 578.3L257.0 579.8L257.1 581.3L257.1 582.8L257.2 584.3L257.3 585.8L257.3 587.3L257.4 588.8L257.4 590.3L257.5 591.8L257.6 593.3L257.6 594.8L257.7 596.3L257.8 597.8L257.8 599.3L257.9 600.8L257.9 602.3L258.0 603.8L258.1 605.3L258.1 606.8L258.2 608.3L258.3 609.8L258.3 611.3L258.4 612.8L258.4 614.3L258.5 615.8L258.6 617.3L258.6 618.8L258.7 620.3L258.7 621.8L258.8 623.3L258.9 624.8L258.9 626.3L259.0 627.8L259.0 629.3L259.1 630.8L259.2 632.3L259.2 633.8L259.3 635.2L259.3 636.7L259.4 638.2L259.5 639.7L259.5 641.2L259.6 642.7L259.6 644.2L259.7 645.7L259.8 647.2L259.8 648.7L259.9 650.2L259.9 651.7L260.0 653.2L260.0 654.7L260.1 656.2L260.2 657.7L260.2 659.2L260.3 660.7L260.3 662.2L260.4 663.7L260.4 665.2L260.5 666.7L260.5 668.2L260.6 669.7L260.7 671.2L260.7 672.7L260.8 674.2L260.8 675.7L260.9 677.2L260.9 678.7L261.0 680.2L261.0 681.7L261.1 683.2L261.1 684.7L261.2 686.2L261.2 687.7L261.3 689.2L261.3 690.7L261.4 692.2L261.4 693.6L261.5 695.1L261.5 696.6L261.6 698.1L261.6 699.6L261.7 701.1L261.7 702.6L261.8 704.1L261.8 705.6L261.8 707.1L261.9 708.6L261.9 710.1L262.0 711.6L262.0 713.1L262.1 714.6L262.1 716.1L262.1 717.6L262.2 719.1L262.2 720.6L262.3 722.1L262.3 723.6L262.3 725.1L262.4 726.6L262.4 728.1L262.5 729.6L262.5 731.1L262.5 732.5L262.6 734.0L262.6 735.5L262.6 737.0L262.7 738.5L262.7 740.0L262.7 741.5L262.8 743.0L262.8 744.5L262.8 746.0L262.9 747.5L262.9 749.0L262.9 750.5L262.9 752.0L263.0 753.5L263.0 755.0L263.0 756.5L263.1 758.0L263.1 759.5L263.1 761.0L263.1 762.5L263.2 763.9L263.2 765.4L263.2 766.9L263.2 768.4L263.2 769.9L263.3 771.4L263.3 772.9L263.3 774.4L263.3 775.9L263.3 777.4L263.4 778.9L263.4 780.4L263.4 781.9L263.4 783.4L263.5 784.9L263.5 786.5L263.5 788.0L263.6 789.5L263.6 791.0L263.6 792.5L263.7 794.1L263.7 795.6L263.7 797.1L263.8 798.7L263.8 800.2L263.9 801.7L263.9 803.3L264.0 804.8L264.0 806.4L264.1 808.0L264.2 809.5L264.2 811.1L264.3 812.6L264.4 814.2L264.4 815.7L264.5 817.3L264.6 818.8L264.7 820.4L264.7 821.9L264.8 823.5L264.9 825.0L265.0 826.5L265.1 828.0L265.1 829.5L265.2 831.0L265.3 832.5L265.4 834.0L265.5 835.5L265.6 836.9L265.6 838.4L265.7 839.8L265.8 841.3L265.9 842.7L266.0 844.1L266.1 845.4L266.1 846.8L266.2 848.2L266.3 849.5L266.4 850.8L266.5 852.1L266.5 853.4L266.6 854.7L266.7 855.9L266.8 857.2L266.8 858.5L266.9 859.7L267.0 861.0L267.1 862.3L267.2 863.5L267.2 864.8L267.3 866.1L267.4 867.4L267.5 868.8L267.5 870.1L267.6 871.5L267.7 872.9L267.8 874.3L267.9 875.8L268.0 877.3L268.0 878.8L268.1 880.4L268.2 882.0L268.3 883.6L268.4 885.3L268.5 887.1L268.6 888.9L268.7 890.7L268.8 892.6L268.9 894.6L269.0 896.6L269.2 898.7L269.3 900.8L269.4 903.1L269.5 905.3L269.7 907.5L269.8 909.7L269.9 911.9L270.1 914.0L270.3 916.0L270.4 917.9L270.6 919.6L270.8 921.2L271.0 922.6L271.2 923.8L271.4 924.8L271.7 925.4L271.9 925.8L272.2 925.9L272.5 925.7L272.8 925.1L273.1 924.2L273.4 923.0L273.8 921.6L274.1 920.1L274.4 918.3L274.8 916.5L275.1 914.7L275.4 912.8L275.7 911.0L275.9 909.2L276.2 907.5L276.4 905.8L276.6 904.1L276.8 902.5L277.0 900.9L277.2 899.4L277.4 897.9L277.5 896.4L277.6 894.9L277.8 893.5L277.9 892.0L278.0 890.6L278.2 889.2L278.3 887.8L278.4 886.4L278.5 885.0L278.6 883.6L278.7 882.2L278.8 880.8L278.9 879.4L279.1 877.9L279.2 876.5L279.3 875.1L279.4 873.7L279.5 872.2L279.6 870.8L279.7 869.3L279.8 867.9L279.9 866.4L280.1 865.0L280.2 863.5L280.3 862.1L280.4 860.6L280.5 859.1L280.6 857.7L280.7 856.2L280.8 854.7L281.0 853.3L281.1 851.8L281.2 850.3L281.3 848.8L281.4 847.3L281.5 845.8L281.6 844.4L281.7 842.9L281.9 841.4L282.0 839.9L282.1 838.4L282.2 836.9L282.3 835.4L282.4 833.9L282.5 832.4L282.6 830.9L282.8 829.3L282.9 827.8L283.0 826.3L283.1 824.8L283.2 823.3L283.3 821.8L283.4 820.3L283.5 818.8L283.7 817.3L283.8 815.7L283.9 814.2L284.0 812.7L284.1 811.2L284.2 809.7L284.3 808.2L284.5 806.6L284.6 805.1L284.7 803.6L284.8 802.1L284.9 800.6L285.0 799.1L285.1 797.5L285.3 796.0L285.4 794.5L285.5 793.0L285.6 791.5L285.7 790.0L285.8 788.5L285.9 787.0L286.1 785.4L286.2 783.9L286.3 782.4L286.4 780.9L286.5 779.4L286.6 777.9L286.7 776.4L286.9 774.9L287.0 773.4L287.1 771.9L287.2 770.4L287.3 768.9L287.4 767.4L287.5 765.9L287.7 764.4L287.8 762.9L287.9 761.4L288.0 759.9L288.1 758.4L288.2 756.9L288.3 755.4L288.5 753.9L288.6 752.4L288.7 750.9L288.8 749.4L288.9 748.0L289.0 746.5L289.2 745.0L289.3 743.5L289.4 742.0L289.5 740.5L289.6 739.0L289.7 737.5L289.9 736.0L290.0 734.5L290.1 733.0L290.2 731.6L290.3 730.1L290.4 728.6L290.6 727.1L290.7 725.6L290.8 724.1L290.9 722.6L291.0 721.1L291.2 719.7L291.3 718.2L291.4 716.7L291.5 715.2L291.6 713.7L291.7 712.2L291.9 710.7L292.0 709.3L292.1 707.8L292.2 706.3L292.3 704.8L292.5 703.3L292.6 701.8L292.7 700.3L292.8 698.9L292.9 697.4L293.1 695.9L293.2 694.4L293.3 692.9L293.4 691.4L293.6 689.9L293.7 688.4L293.8 687.0L293.9 685.5L294.0 684.0L294.2 682.5L294.3 681.0L294.4 679.5L294.5 678.0L294.7 676.5L294.8 675.0L294.9 673.5L295.0 672.1L295.2 670.6L295.3 669.1L295.4 667.6L295.5 666.1L295.7 664.6L295.8 663.1L295.9 661.6L296.0 660.1L296.2 658.6L296.3 657.1L296.4 655.6L296.5 654.1L296.7 652.6L296.8 651.1L296.9 649.6L297.1 648.1L297.2 646.6L297.3 645.1L297.5 643.7L297.6 642.2L297.7 640.7L297.9 639.2L298.0 637.7L298.2 636.2L298.3 634.7L298.4 633.2L298.6 631.7L298.7 630.2L298.9 628.7L299.0 627.2L299.2 625.7L299.3 624.2L299.5 622.7L299.6 621.2L299.8 619.7L299.9 618.2L300.1 616.7L300.2 615.2L300.4 613.7L300.6 612.2L300.7 610.7L300.9 609.2L301.0 607.7L301.2 606.2L301.4 604.7L301.6 603.2L301.7 601.7L301.9 600.2L302.1 598.7L302.3 597.2L302.4 595.8L302.6 594.3L302.8 592.8L303.0 591.3L303.2 589.8L303.4 588.3L303.6 586.8L303.8 585.3L304.0 583.8L304.2 582.3L304.4 580.9L304.6 579.4L304.8 577.9L305.0 576.4L305.2 574.9L305.4 573.4L305.7 571.9L305.9 570.5L306.1 569.0L306.3 567.5L306.6 566.0L306.8 564.5L307.0 563.0L307.3 561.6L307.5 560.1L307.8 558.6L308.0 557.1L308.3 555.7L308.5 554.2L308.8 552.7L309.0 551.2L309.3 549.8L309.6 548.3L309.8 546.8L310.1 545.4L310.4 543.9L310.7 542.4L311.0 541.0L311.3 539.5L311.5 538.0L311.8 536.6L312.1 535.1L312.5 533.7L312.8 532.2L313.1 530.8L313.4 529.3L313.7 527.9L314.1 526.4L314.4 525.0L314.8 523.6L315.1 522.2L315.5 520.7L315.8 519.3L316.2 517.9L316.6 516.5L317.0 515.0L317.5 513.6L318.1 512.1L318.7 510.6L319.4 509.1L320.2 507.6L321.1 506.1L322.1 504.7L323.1 503.5L324.2 502.8L325.3 502.6L326.4 503.0L327.5 503.9L328.5 505.1L329.4 506.6L330.3 508.2L331.0 509.7L331.6 511.2L332.1 512.7L332.6 514.2L333.0 515.6L333.4 517.1L333.7 518.5L334.0 520.0L334.3 521.4L334.5 522.9L334.8 524.3L335.1 525.8L335.4 527.2L335.7 528.7L335.9 530.1L336.2 531.6L336.5 533.0L336.7 534.5L337.0 536.0L337.2 537.4L337.5 538.9L337.7 540.3L338.0 541.8L338.2 543.3L338.5 544.7L338.7 546.2L339.0 547.7L339.2 549.1L339.4 550.6L339.7 552.1L339.9 553.6L340.1 555.0L340.3 556.5L340.6 558.0L340.8 559.5L341.0 560.9L341.2 562.4L341.4 563.9L341.6 565.4L341.9 566.9L342.1 568.3L342.3 569.8L342.5 571.3L342.7 572.8L342.9 574.3L343.1 575.8L343.3 577.3L343.4 578.7L343.6 580.2L343.8 581.7L344.0 583.2L344.2 584.7L344.4 586.2L344.6 587.7L344.7 589.2L344.9 590.7L345.1 592.2L345.3 593.7L345.4 595.2L345.6 596.7L345.8 598.2L345.9 599.7L346.1 601.1L346.3 602.6L346.4 604.1L346.6 605.6L346.7 607.1L346.9 608.6L347.0 610.1L347.2 611.6L347.3 613.1L347.5 614.6L347.6 616.1L347.8 617.6L347.9 619.1L348.1 620.6L348.2 622.1L348.4 623.6L348.5 625.1L348.7 626.6L348.8 628.1L348.9 629.6L349.1 631.1L349.2 632.6L349.3 634.1L349.5 635.6L349.6 637.1L349.7 638.6L349.9 640.1L350.0 641.6L350.1 643.1L350.3 644.6L350.4 646.1L350.5 647.6L350.6 649.1L350.8 650.6L350.9 652.1L351.0 653.6L351.1 655.1L351.3 656.6L351.4 658.1L351.5 659.6L351.6 661.1L351.7 662.6L351.9 664.1L352.0 665.6L352.1 667.1L352.2 668.6L352.3 670.1L352.4 671.6L352.6 673.1L352.7 674.6L352.8 676.0L352.9 677.5L353.0 679.0L353.1 680.5L353.3 682.0L353.4 683.5L353.5 685.0L353.6 686.5L353.7 688.0L353.8 689.4L353.9 690.9L354.1 692.4L354.2 693.9L354.3 695.4L354.4 696.9L354.5 698.4L354.6 699.8L354.7 701.3L354.9 702.8L355.0 704.3L355.1 705.8L355.2 707.3L355.3 708.7L355.4 710.2L355.6 711.7L355.7 713.2L355.8 714.7L355.9 716.2L356.0 717.7L356.2 719.1L356.3 720.6L356.4 722.1L356.5 723.6L356.6 725.1L356.8 726.6L356.9 728.1L357.0 729.5L357.2 731.0L357.3 732.5L357.4 734.0L357.5 735.5L357.7 737.0L357.8 738.5L357.9 740.0L358.1 741.5L358.2 743.0L358.4 744.4L358.5 745.9L358.6 747.4L358.8 748.9L358.9 750.4L359.1 751.9L359.2 753.4L359.4 754.9L359.5 756.4L359.7 757.9L359.8 759.4L360.0 760.9L360.1 762.4L360.3 763.9L360.4 765.4L360.6 766.9L360.7 768.4L360.9 769.9L361.1 771.4L361.2 772.9L361.4 774.4L361.6 775.9L361.8 777.5L361.9 779.0L362.1 780.5L362.3 782.0L362.5 783.5L362.7 785.0L362.8 786.5L363.0 788.1L363.2 789.6L363.4 791.1L363.6 792.6L363.8 794.1L364.0 795.7L364.2 797.2L364.4 798.7L364.6 800.2L364.8 801.7L365.0 803.2L365.2 804.7L365.4 806.2L365.6 807.7L365.8 809.2L366.0 810.7L366.2 812.2L366.3 813.6L366.5 815.1L366.7 816.5L366.9 817.9L367.0 819.4L367.2 820.8L367.3 822.2L367.5 823.5L367.6 824.9L367.8 826.2L367.9 827.6L368.0 828.9L368.2 830.3L368.3 831.6L368.5 833.0L368.6 834.3L368.8 835.7L369.0 837.2L369.2 838.6L369.5 840.2L369.7 841.7L370.0 843.3L370.4 845.0L370.8 846.8L371.2 848.6L371.6 850.5L372.1 852.4L372.7 854.3L373.3 855.9L373.8 857.1L374.4 857.8L375.0 857.9L375.5 857.2L376.1 856.1L376.6 854.5L377.1 852.7L377.6 850.8L378.1 849.0L378.6 847.2L379.1 845.6L379.5 844.0L380.0 842.4L380.5 840.9L381.0 839.5L381.4 838.1L381.9 836.7L382.3 835.3L382.7 834.0L383.2 832.6L383.6 831.2L384.0 829.8L384.4 828.4L384.8 827.0L385.2 825.6L385.6 824.2L386.0 822.8L386.3 821.4L386.7 820.0L387.0 818.6L387.4 817.2L387.7 815.8L388.1 814.3L388.4 812.9L388.7 811.5L389.0 810.1L389.4 808.6L389.7 807.2L390.0 805.7L390.3 804.3L390.5 802.8L390.8 801.4L391.1 799.9L391.4 798.5L391.7 797.0L391.9 795.6L392.2 794.1L392.4 792.7L392.7 791.2L392.9 789.7L393.2 788.2L393.4 786.8L393.6 785.3L393.9 783.8L394.1 782.3L394.3 780.9L394.5 779.4L394.7 777.9L394.9 776.4L395.1 774.9L395.3 773.4L395.5 772.0L395.7 770.5L395.9 769.0L396.1 767.5L396.3 766.0L396.5 764.5L396.7 763.0L396.8 761.5L397.0 760.0L397.2 758.5L397.4 757.0L397.5 755.5L397.7 754.0L397.9 752.5L398.0 751.0L398.2 749.5L398.4 748.0L398.5 746.5L398.7 745.0L398.8 743.5L399.0 742.0L399.1 740.5L399.3 739.0L399.4 737.5L399.6 736.0L399.7 734.5L399.9 733.0L400.0 731.5L400.2 729.9L400.3 728.4L400.5 726.9L400.6 725.4L400.8 723.9L400.9 722.4L401.1 720.9L401.2 719.4L401.4 717.9L401.5 716.4L401.7 714.9L401.8 713.4L402.0 711.9L402.1 710.4L402.3 708.9L402.4 707.4L402.6 705.9L402.7 704.4L402.9 702.9L403.0 701.4L403.1 699.9L403.3 698.4L403.4 696.9L403.6 695.5L403.7 694.0L403.9 692.5L404.0 691.0L404.2 689.5L404.3 688.0L404.5 686.5L404.6 685.0L404.8 683.5L404.9 682.0L405.1 680.5L405.2 679.0L405.3 677.5L405.5 676.0L405.6 674.5L405.8 673.0L405.9 671.5L406.1 670.0L406.2 668.6L406.4 667.1L406.5 665.6L406.7 664.1L406.8 662.6L407.0 661.1L407.1 659.6L407.3 658.1L407.4 656.6L407.6 655.1L407.7 653.6L407.9 652.1L408.0 650.7L408.2 649.2L408.3 647.7L408.4 646.2L408.6 644.7L408.7 643.2L408.9 641.7L409.0 640.2L409.2 638.7L409.3 637.3L409.5 635.8L409.6 634.3L409.8 632.8L409.9 631.3L410.1 629.8L410.3 628.3L410.4 626.8L410.6 625.3L410.7 623.9L410.9 622.4L411.0 620.9L411.2 619.4L411.3 617.9L411.5 616.4L411.6 614.9L411.8 613.4L411.9 611.9L412.1 610.5L412.2 609.0L412.4 607.5L412.6 606.0L412.7 604.5L412.9 603.0L413.0 601.5L413.2 600.0L413.3 598.6L413.5 597.1L413.7 595.6L413.8 594.1L414.0 592.6L414.1 591.1L414.3 589.6L414.5 588.2L414.6 586.7L414.8 585.2L414.9 583.7L415.1 582.2L415.3 580.7L415.4 579.2L415.6 577.7L415.8 576.3L415.9 574.8L416.1 573.3L416.3 571.8L416.4 570.3L416.6 568.8L416.8 567.3L416.9 565.8L417.1 564.4L417.3 562.9L417.4 561.4L417.6 559.9L417.8 558.4L418.0 556.9L418.1 555.4L418.3 553.9L418.5 552.4L418.6 551.0L418.8 549.5L419.0 548.0L419.2 546.5L419.3 545.0L419.5 543.5L419.7 542.0L419.9 540.5L420.1 539.1L420.2 537.6L420.4 536.1L420.6 534.6L420.8 533.1L421.0 531.6L421.2 530.1L421.3 528.6L421.5 527.1L421.7 525.6L421.9 524.2L422.1 522.7L422.3 521.2L422.5 519.7L422.7 518.2L422.9 516.7L423.1 515.2L423.3 513.7L423.5 512.3L423.7 510.8L423.9 509.3L424.1 507.8L424.3 506.3L424.5 504.8L424.7 503.3L424.9 501.8L425.1 500.4L425.3 498.9L425.5 497.4L425.7 495.9L425.9 494.4L426.1 492.9L426.4 491.4L426.6 489.9L426.8 488.5L427.0 487.0L427.2 485.5L427.5 484.0L427.7 482.5L427.9 481.0L428.2 479.6L428.4 478.1L428.6 476.6L428.9 475.1L429.1 473.6L429.3 472.1L429.6 470.7L429.8 469.2L430.1 467.7L430.3 466.2L430.6 464.7L430.8 463.3L431.1 461.8L431.3 460.3L431.6 458.8L431.8 457.3L432.1 455.9L432.4 454.4L432.6 452.9L432.9 451.4L433.2 450.0L433.4 448.5L433.7 447.0L434.0 445.5L434.3 444.1L434.5 442.6L434.8 441.1L435.1 439.6L435.4 438.2L435.7 436.7L436.0 435.2L436.3 433.7L436.6 432.3L436.9 430.8L437.2 429.3L437.5 427.9L437.8 426.4L438.1 424.9L438.4 423.5L438.7 422.0L439.1 420.5L439.4 419.1L439.7 417.6L440.0 416.2L440.4 414.7L440.7 413.2L441.1 411.8L441.4 410.3L441.8 408.9L442.1 407.4L442.5 406.0L442.8 404.5L443.2 403.1L443.6 401.6L444.0 400.2L444.3 398.7L444.7 397.3L445.1 395.8L445.5 394.4L445.9 392.9L446.3 391.5L446.8 390.1L447.2 388.6L447.6 387.2L448.0 385.8L448.5 384.3L448.9 382.9L449.4 381.5L449.9 380.1L450.3 378.7L450.8 377.2L451.3 375.8L451.8 374.4L452.3 373.0L452.8 371.6L453.3 370.2L453.8 368.8L454.3 367.4L454.8 366.0L455.4 364.6L455.9 363.2L456.5 361.8L457.1 360.4L457.6 359.1L458.2 357.7L458.8 356.3L459.4 354.9L460.0 353.6L460.6 352.2L461.3 350.8L461.9 349.5L462.6 348.1L463.2 346.8L463.9 345.4L464.6 344.1L465.2 342.7L465.9 341.4L466.6 340.0L467.4 338.7L468.1 337.4L468.8 336.1L469.6 334.8L470.3 333.5L471.1 332.1L471.9 330.9L472.7 329.6L473.5 328.3L474.3 327.0L475.1 325.7L475.9 324.5L476.8 323.2L477.6 322.0L478.5 320.8L479.3 319.5L480.2 318.3L481.1 317.1L482.0 315.9L483.0 314.7L483.9 313.6L484.8 312.4L485.8 311.2L486.8 310.1L487.7 309.0L488.7 307.9L489.7 306.8L490.7 305.7L491.8 304.6L492.8 303.5L493.9 302.5L494.9 301.4L496.0 300.4L497.1 299.4L498.2 298.4L499.3 297.4L500.4 296.5L501.6 295.5L502.7 294.6L503.9 293.7L505.1 292.8L506.2 291.9L507.4 291.0L508.7 290.2L509.9 289.4L511.1 288.5L512.4 287.8L513.7 287.0L514.9 286.2L516.2 285.5L517.6 284.8L518.9 284.1L520.2 283.4L521.6 282.7L522.9 282.1L524.3 281.5L525.7 280.9L527.1 280.3L528.5 279.8L530.0 279.3L531.4 278.8L532.9 278.3L534.4 277.8L535.9 277.4L537.3 277.0L538.8 276.6L540.4 276.3L541.9 276.0L543.4 275.7L544.9 275.5L546.4 275.3L547.9 275.1L549.5 275.0L551.0 275.0L552.5 274.9L554.0 275.0L555.5 275.0L557.0 275.1L558.5 275.3L559.9 275.5L561.4 275.8L562.8 276.1L564.2 276.5L565.7 276.9L567.1 277.4L568.5 277.9L569.9 278.4L571.3 279.0L572.6 279.6L574.0 280.2L575.4 280.9L576.8 281.6L578.1 282.3L579.5 283.0L580.8 283.8L582.1 284.5L583.4 285.3L584.8 286.2L586.0 287.0L587.3 287.9L588.6 288.7L589.8 289.6L591.0 290.5L592.2 291.5L593.4 292.4L594.6 293.4L595.7 294.4L596.8 295.3L597.9 296.3L599.0 297.4L600.0 298.4L601.1 299.5L602.1 300.5L603.1 301.6L604.0 302.7L605.0 303.8L605.9 304.9L606.9 306.0L607.8 307.2L608.6 308.4L609.5 309.5L610.4 310.7L611.2 311.9L612.0 313.1L612.8 314.3L613.6 315.5L614.4 316.8L615.1 318.0L615.9 319.3L616.6 320.6L617.3 321.8L618.0 323.1L618.7 324.4L619.4 325.7L620.0 327.1L620.7 328.4L621.3 329.7L621.9 331.1L622.5 332.4L623.1 333.8L623.7 335.2L624.3 336.5L624.8 337.9L625.4 339.3L625.9 340.7L626.4 342.1L627.0 343.5L627.5 344.9L628.0 346.3L628.5 347.8L628.9 349.2L629.4 350.6L629.9 352.1L630.3 353.5L630.8 355.0L631.2 356.4L631.7 357.9L632.1 359.4L632.5 360.8L632.9 362.3L633.3 363.8L633.7 365.2L634.1 366.7L634.5 368.2L634.9 369.7L635.3 371.2L635.6 372.7L636.0 374.2L636.4 375.6L636.7 377.1L637.1 378.6L637.4 380.1L637.8 381.6L638.1 383.1L638.5 384.6L638.8 386.1L639.2 387.6L639.5 389.1L639.9 390.6L640.2 392.0L640.5 393.5L640.9 395.0L641.2 396.5L641.6 398.0L641.9 399.5L642.2 400.9L642.5 402.4L642.9 403.9L643.2 405.4L643.5 406.9L643.9 408.3L644.2 409.8L644.5 411.3L644.8 412.8L645.2 414.2L645.5 415.7L645.8 417.2L646.1 418.6L646.4 420.1L646.8 421.6L647.1 423.0L647.4 424.5L647.7 426.0L648.0 427.4L648.3 428.9L648.6 430.4L648.9 431.8L649.2 433.3L649.6 434.8L649.9 436.2L650.2 437.7L650.5 439.1L650.8 440.6L651.1 442.1L651.4 443.5L651.7 445.0L652.0 446.4L652.3 447.9L652.6 449.4L652.8 450.8L653.1 452.3L653.4 453.7L653.7 455.2L654.0 456.7L654.3 458.1L654.6 459.6L654.9 461.0L655.1 462.5L655.4 463.9L655.7 465.4L656.0 466.9L656.3 468.3L656.6 469.8L656.8 471.2L657.1 472.7L657.4 474.2L657.7 475.6L657.9 477.1L658.2 478.5L658.5 480.0L658.7 481.5L659.0 482.9L659.3 484.4L659.5 485.8L659.8 487.3L660.1 488.8L660.3 490.2L660.6 491.7L660.8 493.1L661.1 494.6L661.4 496.1L661.6 497.5L661.9 499.0L662.1 500.5L662.4 501.9L662.6 503.4L662.9 504.9L663.1 506.3L663.4 507.8L663.6 509.3L663.8 510.8L664.1 512.2L664.3 513.7L664.6 515.2L664.8 516.7L665.0 518.1L665.3 519.6L665.5 521.1L665.8 522.6L666.0 524.1L666.2 525.5L666.4 527.0L666.7 528.5L666.9 530.0L667.1 531.5L667.4 533.0L667.6 534.4L667.8 535.9L668.0 537.4L668.3 538.9L668.5 540.4L668.7 541.9L668.9 543.4L669.2 544.9L669.4 546.4L669.6 547.9L669.9 549.4L670.1 550.9L670.4 552.3L670.6 553.8L670.8 555.3L671.1 556.8L671.4 558.3L671.6 559.8L671.9 561.3L672.2 562.8L672.4 564.2L672.7 565.7L673.0 567.2L673.3 568.7L673.6 570.2L673.9 571.6L674.2 573.1L674.6 574.6L674.9 576.1L675.2 577.5L675.6 579.0L676.0 580.4L676.3 581.9L676.7 583.4L677.1 584.8L677.5 586.3L677.9 587.7L678.3 589.2L678.8 590.6L679.2 592.0L679.7 593.5L680.1 594.9L680.6 596.3L681.1 597.7L681.6 599.2L682.1 600.6L682.7 602.0L683.2 603.4L683.8 604.8L684.3 606.2L684.9 607.6L685.5 609.0L686.2 610.3L686.8 611.7L687.4 613.1L688.1 614.4L688.9 615.7L689.9 616.9L691.0 618.0L692.2 618.8L693.6 619.3L694.9 619.3L696.3 618.9L697.6 618.1L698.9 617.2L700.1 616.1L701.2 615.0L702.2 613.9L703.1 612.7L704.0 611.5L704.8 610.2L705.5 609.0L706.2 607.7L706.9 606.3L707.5 605.0L708.1 603.6L708.6 602.2L709.2 600.8L709.8 599.4L710.3 598.0L710.9 596.6L711.4 595.2L712.0 593.8L712.5 592.4L713.0 591.0L713.6 589.6L714.1 588.2L714.7 586.8L715.2 585.4L715.7 584.0L716.3 582.6L716.8 581.1L717.3 579.7L717.8 578.3L718.4 576.9L718.9 575.5L719.4 574.0L719.9 572.6L720.4 571.2L720.9 569.8L721.4 568.4L721.9 567.0L722.4 565.5L722.9 564.1L723.5 562.7L724.0 561.3L724.4 559.9L724.9 558.5L725.4 557.0L725.9 555.6L726.4 554.2L726.9 552.8L727.4 551.4L727.9 550.0L728.4 548.6L728.9 547.2L729.4 545.7L729.9 544.3L730.4 542.9L730.9 541.5L731.4 540.1L731.9 538.7L732.3 537.3L732.8 535.9L733.3 534.5L733.8 533.1L734.3 531.7L734.8 530.3L735.3 528.9L735.8 527.5L736.3 526.1L736.9 524.7L737.4 523.3L737.9 521.9L738.4 520.5L738.9 519.1L739.4 517.7L740.0 516.3L740.5 514.9L741.0 513.5L741.5 512.1L742.1 510.7L742.6 509.3L743.2 508.0L743.7 506.6L744.2 505.2L744.8 503.8L745.4 502.4L745.9 501.0L746.5 499.7L747.1 498.3L747.6 496.9L748.2 495.5L748.8 494.2L749.4 492.8L750.0 491.4L750.6 490.0L751.2 488.7L751.8 487.3L752.4 485.9L753.0 484.6L753.7 483.2L754.3 481.9L754.9 480.5L755.6 479.1L756.2 477.8L756.9 476.4L757.6 475.1L758.3 473.7L758.9 472.4L759.6 471.0L760.3 469.7L761.0 468.3L761.7 467.0L762.4 465.7L763.2 464.3L763.9 463.0L764.7 461.7L765.4 460.3L766.2 459.0L766.9 457.7L767.7 456.4L768.5 455.1L769.3 453.8L770.1 452.5L770.9 451.2L771.7 449.9L772.5 448.6L773.4 447.3L774.2 446.1L775.1 444.8L775.9 443.6L776.8 442.3L777.7 441.1L778.6 439.9L779.5 438.7L780.4 437.5L781.3 436.3L782.2 435.1L783.2 433.9L784.1 432.7L785.1 431.6L786.0 430.4L787.0 429.3L788.0 428.2L789.0 427.1L790.0 426.0L791.1 424.9L792.1 423.8L793.1 422.7L794.2 421.7L795.3 420.7L796.3 419.6L797.4 418.6L798.5 417.6L799.7 416.7L800.8 415.7L801.9 414.8L803.1 413.8L804.2 412.9L805.4 412.0L806.6 411.1L807.8 410.3L809.0 409.4L810.2 408.6L811.5 407.8L812.7 407.0L814.0 406.2L815.2 405.5L816.5 404.7L817.8 404.0L819.1 403.3L820.4 402.6L821.7 401.9L823.1 401.2L824.4 400.6L825.7 400.0L827.1 399.3L828.5 398.7L829.8 398.1L831.2 397.6L832.6 397.0L834.0 396.4L835.4 395.9L836.8 395.4L838.2 394.9L839.6 394.4L841.0 393.9L842.5 393.4L843.9 393.0L845.3 392.5L846.8 392.1L848.2 391.7L849.7 391.2L851.1 390.8L852.6 390.4L854.1 390.1L855.5 389.7L857.0 389.3L858.5 389.0L859.9 388.7L861.4 388.3L862.9 388.0L864.4 387.7L865.8 387.4L867.3 387.1L868.8 386.9L870.3 386.6L871.8 386.4L873.3 386.1L874.8 385.9L876.3 385.7L877.8 385.5L879.2 385.3L880.7 385.1L882.2 385.0L883.7 384.8L885.2 384.7L886.7 384.5L888.2 384.4L889.7 384.3L891.2 384.2L892.7 384.1L894.2 384.1L895.7 384.0L897.2 384.0L898.7 383.9L900.2 383.9L901.7 383.9L903.2 383.9L904.7 383.9L906.2 383.9L907.7 384.0L909.2 384.0L910.7 384.0L912.2 384.1L913.7 384.2L915.2 384.2L916.7 384.3L918.2 384.4L919.7 384.5L921.2 384.6L922.7 384.7L924.1 384.8L925.6 385.0L927.1 385.1L928.6 385.2L930.1 385.4L931.6 385.5L933.1 385.6L934.6 385.8L936.1 385.9L937.6 386.1L939.1 386.2L940.5 386.4L942.0 386.6L943.5 386.7L945.0 386.9L946.5 387.0L948.0 387.2L949.5 387.3L951.0 387.5L952.5 387.6L954.0 387.8L955.5 387.9L957.0 388.1L958.5 388.2L960.0 388.4L961.4 388.5L962.9 388.7L964.4 388.8L965.9 389.0L967.4 389.1L968.9 389.3L970.4 389.5L971.9 389.6L973.4 389.8L974.9 389.9L976.4 390.1L977.9 390.3L979.4 390.4L980.8 390.6L982.3 390.8L983.8 391.0L985.3 391.2L986.8 391.4L988.3 391.6L989.8 391.8L991.2 392.0L992.7 392.2L994.2 392.4L995.7 392.7L997.2 392.9L998.6 393.1L1000.1 393.4L1001.6 393.6L1003.1 393.9L1004.5 394.1L1006.0 394.4L1007.5 394.7L1009.0 394.9L1010.4 395.2L1011.9 395.5L1013.4 395.7L1014.8 396.0L1016.3 396.3L1017.8 396.6L1019.2 396.9L1020.7 397.2L1022.2 397.4L1023.7 397.7L1025.1 398.0L1026.6 398.3L1028.1 398.6L1029.5 398.9L1031.0 399.2L1032.5 399.4L1033.9 399.7L1035.4 400.0L1036.9 400.3L1038.4 400.6L1039.8 400.9L1041.3 401.2L1042.8 401.5L1044.2 401.7L1045.7 402.0L1047.2 402.3L1048.6 402.6L1050.1 402.9L1051.6 403.2L1053.1 403.5L1054.5 403.8L1056.0 404.1L1057.5 404.3L1058.9 404.6L1060.4 404.9L1061.9 405.2L1063.4 405.5L1064.8 405.8L1066.3 406.1L1067.8 406.4L1069.2 406.7L1070.7 407.0L1072.2 407.3L1073.6 407.6L1075.1 407.9L1076.6 408.2L1078.1 408.5L1079.5 408.7L1081.0 409.0L1082.5 409.3L1083.9 409.6L1085.4 409.9L1086.9 410.2L1088.3 410.5L1089.8 410.8L1091.3 411.2L1092.7 411.5L1094.2 411.8L1095.7 412.1L1097.1 412.4L1098.6 412.7L1100.1 413.0L1101.6 413.3L1103.0 413.6L1104.5 413.9L1106.0 414.2L1107.4 414.5L1108.9 414.8L1110.4 415.1L1111.8 415.4L1113.3 415.7L1114.8 416.1L1116.2 416.4L1117.7 416.7L1119.2 417.0L1120.6 417.3L1122.1 417.6L1123.6 417.9L1125.0 418.2L1126.5 418.6L1128.0 418.9L1129.4 419.2L1130.9 419.5L1132.4 419.8L1133.8 420.1L1135.3 420.5L1136.7 420.8L1138.2 421.1L1139.7 421.4L1141.1 421.7L1142.6 422.0L1144.1 422.4L1145.5 422.7L1147.0 423.0L1148.5 423.3L1149.9 423.7L1151.4 424.0L1152.9 424.3L1154.3 424.6L1155.8 424.9L1157.3 425.3L1158.7 425.6L1160.2 425.9L1161.6 426.2L1163.1 426.6L1164.6 426.9L1166.0 427.2L1167.5 427.5L1169.0 427.9L1170.4 428.2L1171.9 428.5L1173.4 428.8L1174.8 429.2L1176.3 429.5L1177.7 429.8L1179.2 430.1L1180.7 430.5L1182.1 430.8L1183.6 431.1L1185.1 431.5L1186.5 431.8L1188.0 432.1L1189.4 432.4L1190.9 432.8L1192.4 433.1L1193.8 433.4L1195.3 433.8L1196.8 434.1L1198.2 434.4L1199.7 434.8L1201.2 435.1L1202.6 435.4L1204.1 435.8L1205.5 436.1L1207.0 436.4L1208.5 436.8L1209.9 437.1L1211.4 437.4L1212.8 437.8L1214.3 438.1L1215.8 438.4L1217.2 438.8L1218.7 439.1L1220.2 439.4L1221.6 439.8L1223.1 440.1L1224.5 440.4L1226.0 440.8L1227.5 441.1L1228.9 441.4L1230.4 441.8L1231.8 442.1L1233.3 442.4L1234.8 442.8L1236.2 443.1L1237.7 443.4L1239.2 443.8L1240.6 444.1L1242.1 444.5L1243.5 444.8L1245.0 445.1L1246.5 445.5L1247.9 445.8L1249.4 446.1L1250.8 446.5L1252.3 446.8L1253.8 447.2L1255.2 447.5L1256.7 447.8L1258.2 448.2L1259.6 448.5L1261.1 448.8L1262.5 449.2L1264.0 449.5L1265.5 449.9L1266.9 450.2L1268.4 450.5L1269.8 450.9L1271.3 451.2L1272.8 451.5L1274.2 451.9L1275.7 452.2L1277.1 452.6L1278.6 452.9L1280.1 453.2L1281.5 453.6L1283.0 453.9L1284.4 454.2L1285.9 454.6L1287.4 454.9L1288.8 455.3L1290.3 455.6L1291.7 455.9L1293.2 456.3L1294.7 456.6L1296.1 456.9L1297.6 457.3L1299.1 457.6L1300.5 457.9L1302.0 458.3L1303.4 458.6L1304.9 459.0L1306.4 459.3L1307.8 459.6L1309.3 460.0L1310.7 460.3L1312.2 460.6L1313.7 461.0L1315.1 461.3L1316.6 461.6L1318.0 462.0L1319.5 462.3L1321.0 462.7L1322.4 463.0L1323.9 463.3L1325.3 463.7L1326.8 464.0L1328.3 464.3L1329.7 464.7L1331.2 465.0L1332.7 465.3L1334.1 465.7L1335.6 466.0L1337.0 466.3L1338.5 466.7L1340.0 467.0L1341.4 467.3L1342.9 467.7L1344.3 468.0L1345.8 468.3L1347.3 468.7L1348.7 469.0L1350.2 469.3L1351.7 469.7L1353.1 470.0L1354.6 470.3L1356.0 470.7L1357.5 471.0L1359.0 471.3L1360.4 471.6L1361.9 472.0L1363.3 472.3L1364.8 472.6L1366.3 473.0L1367.7 473.3"/>
<path stroke="#8E2B8F" d="M170.6 65.9L172.1 66.1L173.5 66.3L175.0 66.7L176.4 67.0L177.8 67.4L179.2 67.9L180.6 68.3L182.0 68.9L183.4 69.4L184.8 70.0L186.1 70.7L187.4 71.3L188.7 72.0L190.0 72.8L191.3 73.6L192.6 74.4L193.8 75.2L195.0 76.1L196.2 77.0L197.4 77.9L198.6 78.8L199.7 79.8L200.9 80.8L202.0 81.9L203.1 82.9L204.1 84.0L205.2 85.1L206.2 86.2L207.2 87.3L208.2 88.5L209.1 89.7L210.0 90.8L210.9 92.0L211.8 93.3L212.7 94.5L213.5 95.7L214.3 97.0L215.1 98.3L215.9 99.5L216.6 100.8L217.4 102.1L218.1 103.5L218.7 104.8L219.4 106.1L220.1 107.5L220.7 108.8L221.3 110.2L221.9 111.6L222.5 112.9L223.0 114.3L223.6 115.7L224.1 117.1L224.6 118.5L225.1 119.9L225.6 121.4L226.1 122.8L226.5 124.2L227.0 125.6L227.4 127.1L227.9 128.5L228.3 130.0L228.7 131.4L229.1 132.9L229.5 134.3L229.9 135.8L230.3 137.2L230.6 138.7L231.0 140.1L231.3 141.6L231.7 143.0L232.0 144.5L232.4 145.9L232.7 147.4L233.0 148.9L233.3 150.3L233.6 151.8L233.9 153.3L234.2 154.7L234.5 156.2L234.8 157.7L235.1 159.1L235.4 160.6L235.6 162.1L235.9 163.5L236.2 165.0L236.4 166.5L236.7 168.0L236.9 169.4L237.2 170.9L237.4 172.4L237.6 173.9L237.9 175.3L238.1 176.8L238.3 178.3L238.5 179.8L238.8 181.2L239.0 182.7L239.2 184.2L239.4 185.7L239.6 187.2L239.8 188.6L240.0 190.1L240.2 191.6L240.4 193.1L240.6 194.6L240.8 196.1L241.0 197.5L241.2 199.0L241.3 200.5L241.5 202.0L241.7 203.5L241.9 205.0L242.1 206.4L242.3 207.9L242.4 209.4L242.6 210.9L242.8 212.4L243.0 213.9L243.1 215.4L243.3 216.9L243.5 218.3L243.7 219.8L243.8 221.3L244.0 222.8L244.2 224.3L244.3 225.8L244.5 227.3L244.7 228.8L244.8 230.2L245.0 231.7L245.1 233.2L245.3 234.7L245.5 236.2L245.6 237.7L245.8 239.2L245.9 240.7L246.1 242.2L246.2 243.7L246.4 245.2L246.5 246.6L246.7 248.1L246.8 249.6L247.0 251.1L247.1 252.6L247.3 254.1L247.4 255.6L247.6 257.1L247.7 258.6L247.8 260.1L248.0 261.6L248.1 263.1L248.3 264.6L248.4 266.1L248.5 267.6L248.7 269.0L248.8 270.5L248.9 272.0L249.1 273.5L249.2 275.0L249.3 276.5L249.4 278.0L249.6 279.5L249.7 281.0L249.8 282.5L249.9 284.0L250.1 285.5L250.2 287.0L250.3 288.5L250.4 290.0L250.6 291.5L250.7 293.0L250.8 294.5L250.9 296.0L251.0 297.5L251.1 299.0L251.3 300.5L251.4 302.0L251.5 303.5L251.6 305.0L251.7 306.5L251.8 308.0L251.9 309.5L252.0 311.0L252.1 312.5L252.2 314.0L252.3 315.5L252.5 317.0L252.6 318.4L252.7 319.9L252.8 321.4L252.9 322.9L253.0 324.4L253.1 325.9L253.2 327.4L253.3 328.9L253.4 330.4L253.5 331.9L253.6 333.4L253.6 334.9L253.7 336.4L253.8 337.9L253.9 339.4L254.0 340.9L254.1 342.4L254.2 343.9L254.3 345.5L254.4 347.0L254.5 348.5L254.6 350.0L254.6 351.5L254.7 353.0L254.8 354.5L254.9 356.0L255.0 357.5L255.1 359.0L255.2 360.5L255.2 362.0L255.3 363.5L255.4 365.0L255.5 366.5L255.6 368.0L255.6 369.5L255.7 371.0L255.8 372.5L255.9 374.0L256.0 375.5L256.0 377.0L256.1 378.5L256.2 380.0L256.3 381.5L256.3 383.0L256.4 384.5L256.5 386.0L256.6 387.5L256.6 389.0L256.7 390.5L256.8 392.0L256.8 393.5L256.9 395.0L257.0 396.5L257.1 398.0L257.1 399.5L257.2 401.0L257.3 402.5L257.3 404.0L257.4 405.5L257.5 407.0L257.5 408.5L257.6 410.0L257.7 411.5L257.7 413.0L257.8 414.5L257.8 416.0L257.9 417.5L258.0 419.0L258.0 420.5L258.1 422.0L258.2 423.5L258.2 425.0L258.3 426.5L258.3 428.0L258.4 429.5L258.5 431.0L258.5 432.5L258.6 434.0L258.6 435.5L258.7 437.0L258.8 438.5L258.8 440.0L258.9 441.5L258.9 443.0L259.0 444.5L259.0 446.0L259.1 447.6L259.2 449.1L259.2 450.6L259.3 452.1L259.3 453.6L259.4 455.1L259.4 456.6L259.5 458.1L259.5 459.6L259.6 461.1L259.6 462.6L259.7 464.1L259.7 465.6L259.8 467.1L259.9 468.6L259.9 470.0L260.0 471.5L260.0 473.0L260.1 474.5L260.1 476.0L260.2 477.5L260.2 479.0L260.3 480.5L260.3 482.0L260.4 483.5L260.4 485.0L260.5 486.5L260.5 488.0L260.6 489.5L260.6 491.0L260.7 492.5L260.7 494.0L260.8 495.5L260.8 497.0L260.9 498.5L260.9 500.0L261.0 501.5L261.0 503.0L261.1 504.5L261.1 506.0L261.2 507.5L261.2 509.0L261.3 510.5L261.3 512.0L261.4 513.5L261.4 515.0L261.5 516.5L261.5 518.0L261.5 519.5L261.6 520.9L261.6 522.4L261.7 523.9L261.7 525.4L261.8 526.9L261.8 528.4L261.9 529.9L261.9 531.4L262.0 532.9L262.0 534.4L262.1 535.9L262.1 537.4L262.2 538.9L262.2 540.4L262.3 541.9L262.3 543.3L262.4 544.8L262.4 546.3L262.5 547.8L262.5 549.3L262.6 550.8L262.6 552.3L262.7 553.8L262.7 555.3L262.8 556.8L262.8 558.3L262.9 559.7L262.9 561.2L263.0 562.7L263.0 564.2L263.1 565.7L263.1 567.2L263.2 568.7L263.2 570.2L263.3 571.6L263.3 573.1L263.4 574.6L263.5 576.1L263.5 577.6L263.6 579.1L263.6 580.6L263.7 582.1L263.7 583.5L263.8 585.0L263.8 586.5L263.9 588.0L263.9 589.5L264.0 591.0L264.0 592.5L264.1 593.9L264.1 595.4L264.2 596.9L264.3 598.4L264.3 599.9L264.4 601.4L264.4 602.8L264.5 604.3L264.5 605.8L264.6 607.3L264.6 608.8L264.7 610.3L264.7 611.8L264.8 613.2L264.9 614.7L264.9 616.2L265.0 617.7L265.0 619.2L265.1 620.7L265.1 622.2L265.2 623.6L265.2 625.1L265.3 626.6L265.3 628.1L265.4 629.6L265.5 631.1L265.5 632.6L265.6 634.0L265.6 635.5L265.7 637.0L265.7 638.5L265.8 640.0L265.8 641.5L265.9 643.0L265.9 644.5L266.0 645.9L266.0 647.4L266.1 648.9L266.2 650.4L266.2 651.9L266.3 653.4L266.3 654.9L266.4 656.4L266.4 657.9L266.5 659.4L266.5 660.8L266.6 662.3L266.6 663.8L266.7 665.3L266.7 666.8L266.8 668.3L266.8 669.8L266.9 671.3L266.9 672.8L267.0 674.3L267.0 675.8L267.1 677.3L267.1 678.8L267.2 680.3L267.2 681.8L267.3 683.3L267.3 684.8L267.3 686.3L267.4 687.8L267.4 689.3L267.5 690.8L267.5 692.3L267.6 693.8L267.6 695.3L267.7 696.8L267.7 698.3L267.8 699.8L267.8 701.3L267.8 702.8L267.9 704.3L267.9 705.8L268.0 707.3L268.0 708.8L268.0 710.4L268.1 711.9L268.1 713.4L268.2 714.9L268.2 716.4L268.2 717.9L268.3 719.4L268.3 720.9L268.3 722.5L268.4 724.0L268.4 725.5L268.5 727.0L268.5 728.5L268.5 730.1L268.6 731.6L268.6 733.1L268.6 734.6L268.7 736.2L268.7 737.7L268.7 739.2L268.7 740.7L268.8 742.3L268.8 743.8L268.8 745.3L268.9 746.8L268.9 748.4L268.9 749.9L268.9 751.4L269.0 753.0L269.0 754.5L269.0 756.1L269.0 757.6L269.1 759.1L269.1 760.7L269.1 762.2L269.1 763.8L269.1 765.3L269.2 766.8L269.2 768.4L269.2 769.9L269.2 771.5L269.2 773.0L269.2 774.6L269.3 776.1L269.3 777.7L269.3 779.2L269.3 780.8L269.3 782.3L269.3 783.8L269.4 785.4L269.4 786.9L269.4 788.5L269.4 790.0L269.4 791.5L269.4 793.1L269.5 794.6L269.5 796.1L269.5 797.6L269.5 799.2L269.5 800.7L269.6 802.2L269.6 803.7L269.6 805.2L269.6 806.7L269.7 808.2L269.7 809.7L269.7 811.2L269.8 812.7L269.8 814.2L269.8 815.6L269.9 817.1L269.9 818.6L270.0 820.0L270.0 821.5L270.0 822.9L270.1 824.4L270.1 825.8L270.2 827.2L270.2 828.6L270.3 830.1L270.3 831.5L270.4 832.9L270.5 834.2L270.5 835.6L270.6 837.0L270.7 838.4L270.7 839.7L270.8 841.1L270.9 842.4L271.0 843.7L271.1 845.0L271.2 846.3L271.3 847.6L271.4 848.9L271.5 850.2L271.6 851.5L271.7 852.8L271.8 854.0L271.9 855.3L272.0 856.6L272.1 857.8L272.2 859.1L272.3 860.4L272.4 861.7L272.6 863.0L272.7 864.4L272.8 865.7L272.9 867.1L273.0 868.5L273.1 869.9L273.2 871.4L273.3 872.9L273.4 874.4L273.5 875.9L273.6 877.5L273.7 879.2L273.8 880.8L273.9 882.6L274.0 884.3L274.1 886.1L274.1 888.0L274.2 889.9L274.3 891.9L274.3 893.9L274.4 896.0L274.4 898.2L274.5 900.4L274.5 902.7L274.6 905.0L274.6 907.1L274.7 909.1L274.9 910.9L275.1 912.4L275.3 913.6L275.6 914.3L276.1 914.6L276.6 914.3L277.2 913.4L277.8 912.2L278.5 910.7L279.0 909.1L279.4 907.6L279.7 906.0L280.0 904.5L280.3 902.9L280.4 901.3L280.6 899.8L280.8 898.2L280.9 896.7L281.1 895.1L281.2 893.6L281.4 892.0L281.6 890.5L281.7 889.0L281.9 887.5L282.0 886.0L282.2 884.5L282.3 883.0L282.5 881.5L282.6 880.0L282.7 878.5L282.9 877.0L283.0 875.5L283.2 874.0L283.3 872.6L283.5 871.1L283.6 869.6L283.7 868.2L283.9 866.7L284.0 865.2L284.2 863.7L284.3 862.3L284.4 860.8L284.6 859.4L284.7 857.9L284.8 856.4L285.0 855.0L285.1 853.5L285.2 852.0L285.4 850.6L285.5 849.1L285.6 847.6L285.8 846.2L285.9 844.7L286.0 843.2L286.1 841.8L286.3 840.3L286.4 838.8L286.5 837.3L286.7 835.8L286.8 834.4L286.9 832.9L287.0 831.4L287.2 829.9L287.3 828.4L287.4 826.9L287.6 825.5L287.7 824.0L287.8 822.5L287.9 821.0L288.1 819.5L288.2 818.0L288.3 816.5L288.4 815.0L288.6 813.5L288.7 812.0L288.8 810.5L288.9 809.1L289.1 807.6L289.2 806.1L289.3 804.6L289.4 803.1L289.6 801.6L289.7 800.1L289.8 798.6L289.9 797.1L290.0 795.6L290.2 794.1L290.3 792.6L290.4 791.1L290.5 789.6L290.6 788.1L290.8 786.5L290.9 785.0L291.0 783.5L291.1 782.0L291.2 780.5L291.3 779.0L291.5 777.5L291.6 776.0L291.7 774.5L291.8 773.0L291.9 771.5L292.0 770.0L292.2 768.5L292.3 767.0L292.4 765.5L292.5 764.0L292.6 762.5L292.7 761.0L292.9 759.5L293.0 758.0L293.1 756.5L293.2 755.0L293.3 753.5L293.4 751.9L293.5 750.4L293.6 748.9L293.8 747.4L293.9 745.9L294.0 744.4L294.1 742.9L294.2 741.4L294.3 739.9L294.4 738.4L294.5 736.9L294.6 735.4L294.7 733.9L294.8 732.4L295.0 730.9L295.1 729.5L295.2 728.0L295.3 726.5L295.4 725.0L295.5 723.5L295.6 722.0L295.7 720.5L295.8 719.0L295.9 717.5L296.0 716.0L296.1 714.5L296.2 713.0L296.3 711.5L296.4 710.1L296.6 708.6L296.7 707.1L296.8 705.6L296.9 704.1L297.0 702.6L297.1 701.1L297.2 699.6L297.3 698.2L297.4 696.7L297.5 695.2L297.6 693.7L297.7 692.2L297.8 690.7L297.9 689.2L298.0 687.8L298.2 686.3L298.3 684.8L298.4 683.3L298.5 681.8L298.6 680.3L298.7 678.8L298.8 677.4L298.9 675.9L299.0 674.4L299.2 672.9L299.3 671.4L299.4 669.9L299.5 668.4L299.6 666.9L299.7 665.5L299.8 664.0L300.0 662.5L300.1 661.0L300.2 659.5L300.3 658.0L300.4 656.5L300.6 655.0L300.7 653.5L300.8 652.0L300.9 650.6L301.1 649.1L301.2 647.6L301.3 646.1L301.4 644.6L301.6 643.1L301.7 641.6L301.8 640.1L302.0 638.6L302.1 637.1L302.2 635.6L302.4 634.1L302.5 632.6L302.6 631.1L302.8 629.6L302.9 628.1L303.1 626.6L303.2 625.1L303.4 623.5L303.5 622.0L303.7 620.5L303.8 619.0L304.0 617.5L304.1 616.0L304.3 614.5L304.4 613.0L304.6 611.4L304.7 609.9L304.9 608.4L305.0 606.9L305.2 605.4L305.4 603.8L305.5 602.3L305.7 600.8L305.9 599.3L306.1 597.8L306.2 596.3L306.4 594.8L306.6 593.3L306.8 591.8L306.9 590.3L307.1 588.8L307.3 587.3L307.5 585.8L307.7 584.4L307.9 582.9L308.1 581.5L308.3 580.0L308.5 578.6L308.7 577.2L308.9 575.8L309.1 574.4L309.3 573.0L309.5 571.6L309.7 570.3L309.9 568.9L310.2 567.5L310.4 566.2L310.7 564.8L310.9 563.4L311.2 562.0L311.5 560.6L311.8 559.1L312.1 557.6L312.4 556.1L312.7 554.6L313.1 553.0L313.4 551.4L313.8 549.8L314.2 548.1L314.7 546.4L315.2 544.7L315.8 543.1L316.4 541.5L317.2 540.1L318.1 538.8L319.0 538.0L319.9 537.9L320.8 538.4L321.6 539.5L322.4 540.9L323.2 542.4L324.0 543.9L324.7 545.3L325.4 546.8L326.0 548.3L326.6 549.8L327.2 551.3L327.8 552.7L328.3 554.2L328.8 555.7L329.3 557.2L329.8 558.7L330.2 560.1L330.6 561.6L331.0 563.1L331.4 564.5L331.7 566.0L332.0 567.5L332.3 569.0L332.6 570.4L332.9 571.9L333.1 573.4L333.4 574.8L333.6 576.3L333.8 577.8L334.0 579.3L334.2 580.7L334.3 582.2L334.5 583.7L334.6 585.1L334.8 586.6L334.9 588.1L335.0 589.5L335.1 591.0L335.3 592.5L335.4 594.0L335.5 595.4L335.5 596.9L335.6 598.4L335.7 599.9L335.8 601.3L335.9 602.8L336.0 604.3L336.1 605.8L336.2 607.3L336.3 608.8L336.4 610.2L336.5 611.7L336.6 613.2L336.7 614.7L336.8 616.2L336.9 617.7L337.0 619.2L337.1 620.7L337.3 622.2L337.4 623.7L337.5 625.2L337.7 626.6L337.8 628.1L337.9 629.6L338.1 631.1L338.2 632.6L338.4 634.1L338.5 635.6L338.7 637.1L338.8 638.6L339.0 640.1L339.1 641.6L339.3 643.1L339.5 644.6L339.6 646.2L339.8 647.7L339.9 649.2L340.1 650.7L340.3 652.2L340.4 653.7L340.6 655.2L340.7 656.7L340.9 658.2L341.1 659.7L341.2 661.2L341.4 662.7L341.5 664.2L341.7 665.7L341.9 667.2L342.0 668.7L342.2 670.1L342.3 671.6L342.5 673.1L342.6 674.6L342.8 676.1L342.9 677.6L343.1 679.1L343.2 680.6L343.3 682.1L343.5 683.6L343.6 685.1L343.8 686.5L343.9 688.0L344.0 689.5L344.2 691.0L344.3 692.5L344.4 694.0L344.6 695.5L344.7 696.9L344.8 698.4L345.0 699.9L345.1 701.4L345.2 702.9L345.4 704.4L345.5 705.8L345.6 707.3L345.7 708.8L345.9 710.3L346.0 711.8L346.1 713.3L346.2 714.7L346.4 716.2L346.5 717.7L346.6 719.2L346.7 720.7L346.9 722.2L347.0 723.6L347.1 725.1L347.2 726.6L347.3 728.1L347.5 729.6L347.6 731.1L347.7 732.5L347.8 734.0L347.9 735.5L348.1 737.0L348.2 738.5L348.3 740.0L348.4 741.4L348.5 742.9L348.7 744.4L348.8 745.9L348.9 747.4L349.0 748.9L349.1 750.4L349.3 751.9L349.4 753.4L349.5 754.9L349.6 756.3L349.8 757.8L349.9 759.3L350.0 760.8L350.1 762.3L350.3 763.8L350.4 765.3L350.5 766.8L350.6 768.3L350.8 769.8L350.9 771.3L351.0 772.8L351.2 774.3L351.3 775.8L351.4 777.3L351.6 778.9L351.7 780.4L351.8 781.9L352.0 783.4L352.1 784.9L352.2 786.4L352.4 787.9L352.5 789.4L352.7 791.0L352.8 792.5L353.0 794.0L353.1 795.5L353.3 797.1L353.4 798.6L353.6 800.1L353.7 801.6L353.9 803.1L354.0 804.7L354.2 806.2L354.3 807.7L354.5 809.2L354.7 810.7L354.8 812.2L355.0 813.8L355.2 815.3L355.3 816.8L355.5 818.3L355.7 819.8L355.8 821.3L356.0 822.7L356.2 824.2L356.4 825.7L356.6 827.2L356.8 828.7L356.9 830.1L357.1 831.6L357.3 833.0L357.5 834.5L357.7 835.9L357.9 837.4L358.1 838.8L358.3 840.2L358.5 841.6L358.8 843.0L359.0 844.4L359.2 845.8L359.4 847.2L359.6 848.5L359.9 849.9L360.1 851.3L360.3 852.6L360.6 854.0L360.8 855.3L361.1 856.7L361.4 858.2L361.7 859.6L362.0 861.2L362.3 862.7L362.6 864.3L363.0 866.0L363.4 867.8L363.8 869.6L364.3 871.6L364.7 873.5L365.2 875.5L365.8 877.3L366.3 878.9L366.9 880.2L367.5 881.2L368.2 881.8L368.9 881.9L369.6 881.5L370.3 880.6L371.0 879.3L371.7 877.8L372.4 876.1L373.1 874.4L373.7 872.7L374.3 871.1L374.9 869.5L375.4 867.9L375.9 866.3L376.4 864.8L376.8 863.3L377.2 861.8L377.6 860.3L378.0 858.8L378.3 857.4L378.7 856.0L379.0 854.6L379.3 853.1L379.6 851.7L379.9 850.3L380.2 848.9L380.5 847.5L380.8 846.1L381.0 844.7L381.3 843.2L381.6 841.8L381.8 840.4L382.1 839.0L382.4 837.5L382.6 836.1L382.9 834.7L383.1 833.2L383.4 831.8L383.6 830.3L383.8 828.9L384.1 827.4L384.3 826.0L384.5 824.5L384.8 823.1L385.0 821.6L385.2 820.2L385.4 818.7L385.7 817.2L385.9 815.8L386.1 814.3L386.3 812.8L386.5 811.4L386.7 809.9L386.9 808.4L387.1 807.0L387.3 805.5L387.5 804.0L387.7 802.5L387.9 801.0L388.1 799.6L388.2 798.1L388.4 796.6L388.6 795.1L388.8 793.6L389.0 792.1L389.1 790.6L389.3 789.2L389.5 787.7L389.7 786.2L389.8 784.7L390.0 783.2L390.2 781.7L390.3 780.2L390.5 778.7L390.7 777.2L390.8 775.7L391.0 774.2L391.1 772.7L391.3 771.2L391.5 769.7L391.6 768.2L391.8 766.7L391.9 765.2L392.1 763.7L392.2 762.2L392.4 760.7L392.5 759.2L392.7 757.6L392.9 756.1L393.0 754.6L393.2 753.1L393.3 751.6L393.5 750.1L393.6 748.6L393.8 747.1L393.9 745.6L394.1 744.1L394.2 742.6L394.4 741.1L394.5 739.6L394.7 738.1L394.8 736.6L395.0 735.1L395.1 733.6L395.3 732.0L395.4 730.5L395.6 729.0L395.7 727.5L395.9 726.0L396.0 724.5L396.2 723.0L396.4 721.5L396.5 720.0L396.7 718.5L396.8 717.0L397.0 715.5L397.1 714.0L397.3 712.5L397.5 711.0L397.6 709.5L397.8 708.0L398.0 706.5L398.1 705.0L398.3 703.6L398.4 702.1L398.6 700.6L398.8 699.1L398.9 697.6L399.1 696.1L399.3 694.6L399.4 693.1L399.6 691.6L399.8 690.1L399.9 688.6L400.1 687.1L400.3 685.6L400.4 684.1L400.6 682.6L400.8 681.2L400.9 679.7L401.1 678.2L401.3 676.7L401.5 675.2L401.6 673.7L401.8 672.2L402.0 670.7L402.1 669.2L402.3 667.8L402.5 666.3L402.7 664.8L402.8 663.3L403.0 661.8L403.2 660.3L403.4 658.8L403.5 657.3L403.7 655.9L403.9 654.4L404.1 652.9L404.3 651.4L404.4 649.9L404.6 648.4L404.8 646.9L405.0 645.5L405.1 644.0L405.3 642.5L405.5 641.0L405.7 639.5L405.9 638.0L406.0 636.6L406.2 635.1L406.4 633.6L406.6 632.1L406.8 630.6L407.0 629.1L407.1 627.6L407.3 626.2L407.5 624.7L407.7 623.2L407.9 621.7L408.1 620.2L408.2 618.7L408.4 617.3L408.6 615.8L408.8 614.3L409.0 612.8L409.2 611.3L409.4 609.8L409.5 608.4L409.7 606.9L409.9 605.4L410.1 603.9L410.3 602.4L410.5 601.0L410.7 599.5L410.9 598.0L411.0 596.5L411.2 595.0L411.4 593.5L411.6 592.1L411.8 590.6L412.0 589.1L412.2 587.6L412.4 586.1L412.6 584.6L412.7 583.2L412.9 581.7L413.1 580.2L413.3 578.7L413.5 577.2L413.7 575.7L413.9 574.2L414.1 572.8L414.3 571.3L414.5 569.8L414.7 568.3L414.9 566.8L415.0 565.3L415.2 563.9L415.4 562.4L415.6 560.9L415.8 559.4L416.0 557.9L416.2 556.4L416.4 554.9L416.6 553.5L416.8 552.0L417.0 550.5L417.2 549.0L417.4 547.5L417.6 546.0L417.7 544.5L417.9 543.0L418.1 541.6L418.3 540.1L418.5 538.6L418.7 537.1L418.9 535.6L419.1 534.1L419.3 532.6L419.5 531.1L419.7 529.6L419.9 528.2L420.1 526.7L420.3 525.2L420.5 523.7L420.7 522.2L420.9 520.7L421.1 519.2L421.3 517.7L421.5 516.2L421.7 514.8L422.0 513.3L422.2 511.8L422.4 510.3L422.6 508.8L422.8 507.3L423.0 505.8L423.2 504.3L423.5 502.9L423.7 501.4L423.9 499.9L424.1 498.4L424.3 496.9L424.6 495.4L424.8 493.9L425.0 492.5L425.3 491.0L425.5 489.5L425.7 488.0L426.0 486.5L426.2 485.0L426.5 483.6L426.7 482.1L426.9 480.6L427.2 479.1L427.4 477.6L427.7 476.2L428.0 474.7L428.2 473.2L428.5 471.7L428.7 470.2L429.0 468.8L429.3 467.3L429.5 465.8L429.8 464.3L430.1 462.9L430.4 461.4L430.6 459.9L430.9 458.4L431.2 457.0L431.5 455.5L431.8 454.0L432.1 452.6L432.4 451.1L432.7 449.6L433.0 448.2L433.3 446.7L433.6 445.2L433.9 443.8L434.3 442.3L434.6 440.8L434.9 439.4L435.2 437.9L435.6 436.5L435.9 435.0L436.2 433.5L436.6 432.1L436.9 430.6L437.3 429.2L437.6 427.7L438.0 426.3L438.4 424.8L438.7 423.4L439.1 421.9L439.5 420.5L439.8 419.0L440.2 417.6L440.6 416.1L441.0 414.7L441.4 413.2L441.8 411.8L442.2 410.4L442.6 408.9L443.0 407.5L443.4 406.0L443.9 404.6L444.3 403.2L444.7 401.7L445.2 400.3L445.6 398.9L446.0 397.4L446.5 396.0L446.9 394.6L447.4 393.2L447.9 391.7L448.3 390.3L448.8 388.9L449.3 387.5L449.8 386.1L450.3 384.7L450.8 383.2L451.2 381.8L451.8 380.4L452.3 379.0L452.8 377.6L453.3 376.2L453.8 374.8L454.4 373.4L454.9 372.0L455.4 370.6L456.0 369.2L456.5 367.8L457.1 366.4L457.7 365.0L458.2 363.6L458.8 362.2L459.4 360.8L460.0 359.4L460.6 358.1L461.2 356.7L461.8 355.3L462.4 353.9L463.0 352.5L463.7 351.2L464.3 349.8L464.9 348.4L465.6 347.1L466.2 345.7L466.9 344.3L467.5 343.0L468.2 341.6L468.9 340.2L469.6 338.9L470.3 337.5L471.0 336.2L471.7 334.9L472.4 333.5L473.1 332.2L473.9 330.9L474.6 329.6L475.4 328.3L476.1 327.0L476.9 325.7L477.7 324.4L478.5 323.1L479.3 321.8L480.1 320.5L480.9 319.3L481.7 318.0L482.5 316.8L483.4 315.5L484.2 314.3L485.1 313.1L486.0 311.9L486.9 310.7L487.8 309.5L488.7 308.3L489.6 307.2L490.5 306.0L491.5 304.9L492.4 303.7L493.4 302.6L494.4 301.5L495.4 300.4L496.4 299.3L497.4 298.3L498.4 297.2L499.5 296.2L500.5 295.1L501.6 294.1L502.7 293.1L503.7 292.1L504.9 291.2L506.0 290.2L507.1 289.3L508.2 288.3L509.4 287.4L510.6 286.5L511.8 285.6L513.0 284.8L514.2 283.9L515.4 283.1L516.7 282.3L517.9 281.5L519.2 280.7L520.5 280.0L521.8 279.3L523.1 278.5L524.5 277.8L525.8 277.2L527.2 276.5L528.6 275.9L530.0 275.3L531.4 274.7L532.8 274.1L534.2 273.6L535.6 273.1L537.1 272.6L538.5 272.1L540.0 271.7L541.4 271.2L542.9 270.9L544.4 270.5L545.9 270.2L547.3 269.9L548.8 269.6L550.3 269.4L551.8 269.1L553.3 269.0L554.8 268.8L556.3 268.7L557.8 268.6L559.4 268.6L560.9 268.5L562.4 268.6L563.9 268.6L565.4 268.7L566.9 268.8L568.4 269.0L569.9 269.1L571.4 269.4L572.8 269.6L574.3 269.9L575.8 270.2L577.2 270.6L578.7 270.9L580.1 271.4L581.6 271.8L583.0 272.3L584.4 272.8L585.8 273.3L587.2 273.9L588.6 274.5L589.9 275.1L591.2 275.8L592.6 276.5L593.9 277.2L595.2 277.9L596.4 278.7L597.7 279.5L598.9 280.4L600.1 281.2L601.3 282.1L602.5 283.1L603.7 284.0L604.8 285.0L605.9 286.0L607.0 287.0L608.1 288.1L609.1 289.1L610.1 290.2L611.2 291.3L612.2 292.5L613.1 293.6L614.1 294.8L615.0 296.0L616.0 297.2L616.9 298.4L617.8 299.6L618.6 300.8L619.5 302.1L620.3 303.3L621.1 304.6L621.9 305.9L622.7 307.2L623.5 308.4L624.3 309.7L625.0 311.0L625.7 312.3L626.5 313.7L627.2 315.0L627.8 316.3L628.5 317.6L629.2 319.0L629.8 320.3L630.5 321.7L631.1 323.0L631.7 324.4L632.3 325.7L632.9 327.1L633.4 328.5L634.0 329.9L634.6 331.3L635.1 332.7L635.6 334.0L636.1 335.4L636.6 336.8L637.1 338.3L637.6 339.7L638.1 341.1L638.6 342.5L639.1 343.9L639.5 345.4L640.0 346.8L640.4 348.2L640.8 349.7L641.2 351.1L641.7 352.5L642.1 354.0L642.5 355.4L642.9 356.9L643.3 358.3L643.7 359.8L644.0 361.2L644.4 362.7L644.8 364.2L645.1 365.6L645.5 367.1L645.9 368.5L646.2 370.0L646.6 371.5L646.9 372.9L647.3 374.4L647.6 375.9L647.9 377.4L648.3 378.8L648.6 380.3L648.9 381.8L649.3 383.2L649.6 384.7L649.9 386.2L650.3 387.7L650.6 389.1L650.9 390.6L651.2 392.1L651.6 393.5L651.9 395.0L652.2 396.5L652.6 397.9L652.9 399.4L653.2 400.9L653.6 402.3L653.9 403.8L654.2 405.3L654.5 406.7L654.9 408.2L655.2 409.7L655.5 411.1L655.9 412.6L656.2 414.0L656.5 415.5L656.9 417.0L657.2 418.4L657.5 419.9L657.9 421.3L658.2 422.8L658.5 424.3L658.8 425.7L659.2 427.2L659.5 428.6L659.8 430.1L660.2 431.6L660.5 433.0L660.8 434.5L661.2 435.9L661.5 437.4L661.8 438.9L662.2 440.3L662.5 441.8L662.8 443.2L663.2 444.7L663.5 446.1L663.8 447.6L664.2 449.1L664.5 450.5L664.9 452.0L665.2 453.4L665.5 454.9L665.9 456.3L666.2 457.8L666.5 459.3L666.9 460.7L667.2 462.2L667.5 463.6L667.9 465.1L668.2 466.5L668.5 468.0L668.9 469.5L669.2 470.9L669.6 472.4L669.9 473.8L670.2 475.3L670.6 476.8L670.9 478.2L671.2 479.7L671.6 481.2L671.9 482.6L672.3 484.1L672.6 485.5L673.0 487.0L673.3 488.4L673.7 489.9L674.1 491.4L674.4 492.8L674.8 494.2L675.3 495.7L675.7 497.1L676.1 498.5L676.6 500.0L677.1 501.4L677.6 502.8L678.1 504.2L678.7 505.6L679.2 506.9L679.8 508.3L680.5 509.7L681.1 511.0L681.8 512.4L682.5 513.7L683.3 515.0L684.2 516.3L685.1 517.7L686.1 519.0L687.2 520.2L688.4 521.2L689.6 522.0L690.9 522.4L692.1 522.3L693.3 521.7L694.5 520.8L695.7 519.7L696.8 518.4L697.9 517.2L698.9 515.9L699.9 514.6L700.8 513.3L701.6 512.1L702.4 510.8L703.2 509.5L704.0 508.2L704.7 506.9L705.4 505.7L706.0 504.4L706.7 503.1L707.3 501.7L707.9 500.4L708.5 499.1L709.2 497.8L709.8 496.4L710.4 495.1L710.9 493.7L711.5 492.4L712.1 491.0L712.7 489.6L713.3 488.2L713.9 486.8L714.4 485.4L715.0 484.1L715.6 482.7L716.1 481.2L716.7 479.8L717.2 478.4L717.8 477.0L718.3 475.6L718.9 474.2L719.4 472.8L720.0 471.4L720.5 470.0L721.1 468.6L721.6 467.1L722.2 465.7L722.7 464.3L723.2 462.9L723.8 461.5L724.3 460.1L724.9 458.7L725.4 457.3L726.0 455.9L726.5 454.5L727.1 453.1L727.6 451.7L728.2 450.3L728.8 449.0L729.3 447.6L729.9 446.2L730.5 444.8L731.0 443.4L731.6 442.1L732.2 440.7L732.8 439.3L733.4 437.9L734.0 436.6L734.6 435.2L735.2 433.9L735.8 432.5L736.4 431.1L737.1 429.8L737.7 428.4L738.3 427.1L739.0 425.8L739.6 424.4L740.3 423.1L741.0 421.8L741.7 420.4L742.4 419.1L743.1 417.8L743.8 416.5L744.5 415.2L745.2 413.8L746.0 412.5L746.7 411.2L747.5 409.9L748.3 408.7L749.1 407.4L749.9 406.1L750.7 404.8L751.5 403.5L752.3 402.3L753.2 401.0L754.0 399.8L754.9 398.5L755.8 397.3L756.6 396.1L757.5 394.8L758.4 393.6L759.4 392.4L760.3 391.2L761.2 390.0L762.2 388.9L763.2 387.7L764.1 386.5L765.1 385.4L766.1 384.3L767.1 383.1L768.1 382.0L769.2 380.9L770.2 379.8L771.3 378.8L772.3 377.7L773.4 376.7L774.5 375.6L775.6 374.6L776.7 373.6L777.8 372.6L779.0 371.6L780.1 370.7L781.3 369.7L782.4 368.8L783.6 367.9L784.8 367.0L786.0 366.1L787.2 365.3L788.4 364.4L789.6 363.6L790.9 362.8L792.1 362.0L793.4 361.3L794.7 360.5L796.0 359.8L797.3 359.1L798.6 358.4L799.9 357.8L801.2 357.1L802.6 356.5L803.9 355.9L805.3 355.3L806.6 354.7L808.0 354.2L809.4 353.7L810.8 353.2L812.2 352.7L813.6 352.2L815.1 351.8L816.5 351.4L817.9 350.9L819.4 350.5L820.8 350.2L822.3 349.8L823.8 349.4L825.2 349.1L826.7 348.8L828.2 348.5L829.7 348.2L831.1 347.9L832.6 347.7L834.1 347.4L835.6 347.2L837.1 346.9L838.6 346.7L840.1 346.5L841.6 346.3L843.1 346.1L844.6 346.0L846.2 345.8L847.7 345.7L849.2 345.5L850.7 345.4L852.2 345.3L853.7 345.1L855.2 345.0L856.7 344.9L858.2 344.8L859.7 344.8L861.2 344.7L862.7 344.6L864.2 344.6L865.7 344.5L867.2 344.5L868.7 344.4L870.2 344.4L871.7 344.4L873.2 344.4L874.7 344.4L876.2 344.4L877.7 344.4L879.2 344.4L880.7 344.4L882.2 344.4L883.7 344.5L885.2 344.5L886.7 344.6L888.2 344.6L889.7 344.7L891.2 344.7L892.7 344.8L894.2 344.9L895.7 345.0L897.2 345.0L898.7 345.1L900.2 345.2L901.7 345.3L903.2 345.4L904.6 345.6L906.1 345.7L907.6 345.8L909.1 345.9L910.6 346.1L912.1 346.2L913.6 346.3L915.1 346.5L916.6 346.6L918.1 346.8L919.5 346.9L921.0 347.1L922.5 347.3L924.0 347.4L925.5 347.6L927.0 347.8L928.5 348.0L930.0 348.1L931.4 348.3L932.9 348.5L934.4 348.7L935.9 348.9L937.4 349.1L938.9 349.3L940.4 349.5L941.8 349.7L943.3 349.9L944.8 350.1L946.3 350.3L947.8 350.5L949.3 350.8L950.7 351.0L952.2 351.2L953.7 351.4L955.2 351.6L956.7 351.8L958.2 352.1L959.6 352.3L961.1 352.5L962.6 352.7L964.1 353.0L965.6 353.2L967.0 353.4L968.5 353.7L970.0 353.9L971.5 354.1L973.0 354.4L974.5 354.6L975.9 354.9L977.4 355.1L978.9 355.4L980.4 355.6L981.9 355.8L983.3 356.1L984.8 356.3L986.3 356.6L987.8 356.8L989.2 357.1L990.7 357.4L992.2 357.6L993.7 357.9L995.2 358.1L996.6 358.4L998.1 358.6L999.6 358.9L1001.1 359.2L1002.6 359.4L1004.0 359.7L1005.5 360.0L1007.0 360.2L1008.5 360.5L1009.9 360.8L1011.4 361.0L1012.9 361.3L1014.4 361.6L1015.8 361.8L1017.3 362.1L1018.8 362.4L1020.3 362.7L1021.7 362.9L1023.2 363.2L1024.7 363.5L1026.2 363.8L1027.6 364.0L1029.1 364.3L1030.6 364.6L1032.1 364.9L1033.5 365.2L1035.0 365.5L1036.5 365.7L1038.0 366.0L1039.4 366.3L1040.9 366.6L1042.4 366.9L1043.9 367.2L1045.3 367.5L1046.8 367.7L1048.3 368.0L1049.8 368.3L1051.2 368.6L1052.7 368.9L1054.2 369.2L1055.6 369.5L1057.1 369.8L1058.6 370.1L1060.1 370.4L1061.5 370.6L1063.0 370.9L1064.5 371.2L1065.9 371.5L1067.4 371.8L1068.9 372.1L1070.4 372.4L1071.8 372.7L1073.3 373.0L1074.8 373.3L1076.2 373.6L1077.7 373.9L1079.2 374.2L1080.7 374.5L1082.1 374.8L1083.6 375.1L1085.1 375.4L1086.5 375.7L1088.0 376.0L1089.5 376.3L1091.0 376.6L1092.4 376.9L1093.9 377.2L1095.4 377.5L1096.8 377.8L1098.3 378.1L1099.8 378.4L1101.2 378.7L1102.7 379.0L1104.2 379.3L1105.6 379.6L1107.1 379.9L1108.6 380.2L1110.1 380.5L1111.5 380.8L1113.0 381.1L1114.5 381.4L1115.9 381.7L1117.4 382.0L1118.9 382.3L1120.3 382.6L1121.8 382.9L1123.3 383.2L1124.7 383.5L1126.2 383.8L1127.7 384.1L1129.1 384.4L1130.6 384.8L1132.1 385.1L1133.5 385.4L1135.0 385.7L1136.5 386.0L1137.9 386.3L1139.4 386.6L1140.9 386.9L1142.3 387.2L1143.8 387.5L1145.3 387.8L1146.7 388.1L1148.2 388.5L1149.7 388.8L1151.1 389.1L1152.6 389.4L1154.1 389.7L1155.5 390.0L1157.0 390.3L1158.5 390.6L1159.9 390.9L1161.4 391.2L1162.9 391.6L1164.3 391.9L1165.8 392.2L1167.3 392.5L1168.7 392.8L1170.2 393.1L1171.7 393.4L1173.1 393.8L1174.6 394.1L1176.1 394.4L1177.5 394.7L1179.0 395.0L1180.5 395.3L1181.9 395.6L1183.4 396.0L1184.9 396.3L1186.3 396.6L1187.8 396.9L1189.3 397.2L1190.7 397.5L1192.2 397.8L1193.6 398.2L1195.1 398.5L1196.6 398.8L1198.0 399.1L1199.5 399.4L1201.0 399.8L1202.4 400.1L1203.9 400.4L1205.4 400.7L1206.8 401.0L1208.3 401.3L1209.8 401.7L1211.2 402.0L1212.7 402.3L1214.1 402.6L1215.6 402.9L1217.1 403.3L1218.5 403.6L1220.0 403.9L1221.5 404.2L1222.9 404.5L1224.4 404.9L1225.9 405.2L1227.3 405.5L1228.8 405.8L1230.2 406.1L1231.7 406.5L1233.2 406.8L1234.6 407.1L1236.1 407.4L1237.6 407.8L1239.0 408.1L1240.5 408.4L1242.0 408.7L1243.4 409.1L1244.9 409.4L1246.3 409.7L1247.8 410.0L1249.3 410.3L1250.7 410.7L1252.2 411.0L1253.7 411.3L1255.1 411.6L1256.6 412.0L1258.1 412.3L1259.5 412.6L1261.0 412.9L1262.4 413.3L1263.9 413.6L1265.4 413.9L1266.8 414.2L1268.3 414.6L1269.8 414.9L1271.2 415.2L1272.7 415.6L1274.1 415.9L1275.6 416.2L1277.1 416.5L1278.5 416.9L1280.0 417.2L1281.5 417.5L1282.9 417.8L1284.4 418.2L1285.8 418.5L1287.3 418.8L1288.8 419.2L1290.2 419.5L1291.7 419.8L1293.2 420.1L1294.6 420.5L1296.1 420.8L1297.5 421.1L1299.0 421.5L1300.5 421.8L1301.9 422.1L1303.4 422.4L1304.9 422.8L1306.3 423.1L1307.8 423.4L1309.2 423.8L1310.7 424.1L1312.2 424.4L1313.6 424.8L1315.1 425.1L1316.6 425.4L1318.0 425.8L1319.5 426.1L1320.9 426.4L1322.4 426.7L1323.9 427.1L1325.3 427.4L1326.8 427.7L1328.3 428.1L1329.7 428.4L1331.2 428.7L1332.7 429.1L1334.1 429.4L1335.6 429.7L1337.0 430.1L1338.5 430.4L1340.0 430.7L1341.4 431.1L1342.9 431.4L1344.4 431.7L1345.8 432.1L1347.3 432.4L1348.7 432.7L1350.2 433.1L1351.7 433.4L1353.1 433.7L1354.6 434.1L1356.1 434.4L1357.5 434.7L1359.0 435.1L1360.4 435.4L1361.9 435.7L1363.4 436.1L1364.8 436.4L1366.3 436.7L1367.8 437.1"/>
</g>
<g font-family="Liberation Serif" font-weight="bold" font-size="55.5" fill="#212121"><text x="207.7" y="1021.6" text-anchor="middle">0.5</text><text x="400.8" y="1021.6" text-anchor="middle">1</text><text x="593.9" y="1021.6" text-anchor="middle">1.5</text><text x="787.1" y="1021.6" text-anchor="middle">2</text><text x="980.2" y="1021.6" text-anchor="middle">2.5</text><text x="1173.3" y="1021.6" text-anchor="middle">3</text><text x="1366.4" y="1021.6" text-anchor="middle">3.5</text><text x="151" y="973.3" text-anchor="end">0</text><text x="151" y="789.9" text-anchor="end">0.2</text><text x="151" y="606.5" text-anchor="end">0.4</text><text x="151" y="423.2" text-anchor="end">0.6</text><text x="151" y="239.8" text-anchor="end">0.8</text><text x="151" y="56.4" text-anchor="end">1</text></g>
<g font-family="Liberation Serif" font-weight="bold" font-size="60.1" fill="#212121"><text x="540.5" y="1096.0">Wavelength</text><text x="859.5" y="1093.1" font-size="58">(</text><text x="889.5" y="1096.0" font-style="italic">&#956;</text><text x="926.0" y="1096.0">m</text><text x="976.5" y="1093.1" font-size="58">)</text></g>
<text transform="translate(57.4,497.5) rotate(-90)" text-anchor="middle" textLength="817.7" lengthAdjust="spacing" font-family="Liberation Serif" font-weight="bold" font-size="62" fill="#404040">Normalized Transmitted Power</text>
<g font-family="Liberation Serif" font-weight="bold" font-size="55" fill="#000"><text x="402" y="115.6">RI = 1.33</text><text x="402" y="178.7">ITO = 50 nm</text></g>
<g font-family="Liberation Serif" font-weight="bold" font-size="51" fill="#000"><path d="M964 99.0H1075" stroke="#0072C2" stroke-width="7"/><text x="1083" y="116.3" textLength="243.7" lengthAdjust="spacing">Ag = 10 nm</text><path d="M964 157.8H1075" stroke="#F9530B" stroke-width="7"/><text x="1083" y="175.1" textLength="243.7" lengthAdjust="spacing">Ag = 15 nm</text><path d="M964 216.6H1075" stroke="#FFB100" stroke-width="7"/><text x="1083" y="233.9" textLength="243.7" lengthAdjust="spacing">Ag = 20 nm</text><path d="M964 275.4H1075" stroke="#8E2B8F" stroke-width="7"/><text x="1083" y="292.7" textLength="243.7" lengthAdjust="spacing">Ag = 25 nm</text></g>
</svg></body></html>
